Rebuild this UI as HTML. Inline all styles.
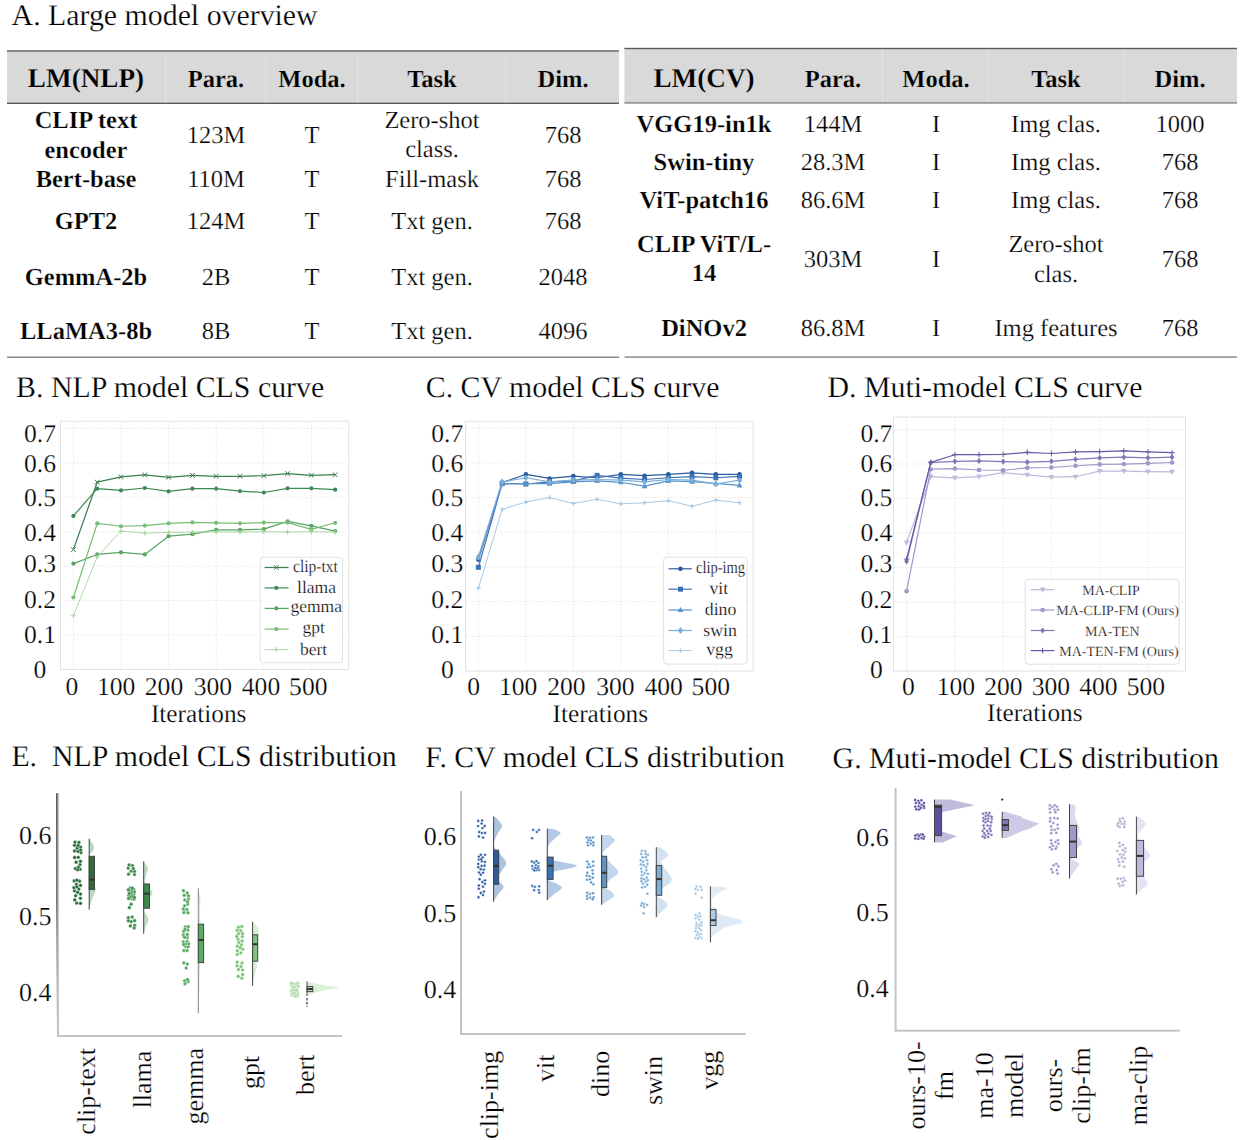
<!DOCTYPE html>
<html><head><meta charset="utf-8"><title>Figure</title>
<style>
html,body{margin:0;padding:0;background:#fff;}
body{width:1242px;height:1140px;overflow:hidden;}
svg{display:block;font-family:"Liberation Serif", serif;text-rendering:geometricPrecision;}
text{stroke:#fff;stroke-width:0.25px;}
</style></head>
<body>
<svg width="1242" height="1140" viewBox="0 0 1242 1140">
<rect width="1242" height="1140" fill="#fff"/>
<text x="11.6" y="24.5" font-size="29.85" text-anchor="start" font-weight="normal" fill="#000" >A. Large model overview</text>
<text x="16.1" y="396.8" font-size="29.85" text-anchor="start" font-weight="normal" fill="#000" >B. NLP model CLS curve</text>
<text x="425.8" y="396.5" font-size="29.85" text-anchor="start" font-weight="normal" fill="#000" >C. CV model CLS curve</text>
<text x="827.5" y="396.7" font-size="29.85" text-anchor="start" font-weight="normal" fill="#000" >D. Muti-model CLS curve</text>
<text x="11.4" y="766" font-size="29.85" text-anchor="start" font-weight="normal" fill="#000" style="white-space:pre">E.  NLP model CLS distribution</text>
<text x="425.2" y="766.5" font-size="29.85" text-anchor="start" font-weight="normal" fill="#000" >F. CV model CLS distribution</text>
<text x="832.6" y="767.8" font-size="29.85" text-anchor="start" font-weight="normal" fill="#000" >G. Muti-model CLS distribution</text>
<rect x="7" y="51" width="612" height="51.8" fill="#d9d9d9" stroke="none" stroke-width="1" />
<rect x="7" y="50" width="612" height="2" fill="#8a8a8a" stroke="none" stroke-width="1" />
<rect x="7" y="102.6" width="612" height="1.4" fill="#5a5a5a" stroke="none" stroke-width="1" />
<rect x="165" y="52" width="1" height="50.6" fill="#e2e2e2" stroke="none" stroke-width="1" />
<rect x="265" y="52" width="1" height="50.6" fill="#e2e2e2" stroke="none" stroke-width="1" />
<rect x="357" y="52" width="1" height="50.6" fill="#e2e2e2" stroke="none" stroke-width="1" />
<rect x="505" y="52" width="1" height="50.6" fill="#e2e2e2" stroke="none" stroke-width="1" />
<rect x="7" y="356.5" width="612.3" height="1.5" fill="#8a8a8a" stroke="none" stroke-width="1" />
<rect x="624.4" y="48.5" width="612.6" height="54" fill="#d9d9d9" stroke="none" stroke-width="1" />
<rect x="624.4" y="47.8" width="612.6" height="1.4" fill="#5a5a5a" stroke="none" stroke-width="1" />
<rect x="624.4" y="101.9" width="612.6" height="1.9" fill="#9a9a9a" stroke="none" stroke-width="1" />
<rect x="882" y="49.2" width="1" height="52.7" fill="#e2e2e2" stroke="none" stroke-width="1" />
<rect x="988" y="49.2" width="1" height="52.7" fill="#e2e2e2" stroke="none" stroke-width="1" />
<rect x="1123" y="49.2" width="1" height="52.7" fill="#e2e2e2" stroke="none" stroke-width="1" />
<rect x="624.6" y="356.3" width="612.4" height="1.5" fill="#8a8a8a" stroke="none" stroke-width="1" />
<text x="86" y="86.8" font-size="27.2" text-anchor="middle" font-weight="bold" fill="#000" style="stroke:#d9d9d9">LM(NLP)</text>
<text x="216" y="86.8" font-size="24.5" text-anchor="middle" font-weight="bold" fill="#000" style="stroke:#d9d9d9">Para.</text>
<text x="312" y="86.8" font-size="24.5" text-anchor="middle" font-weight="bold" fill="#000" style="stroke:#d9d9d9">Moda.</text>
<text x="432" y="86.8" font-size="24.5" text-anchor="middle" font-weight="bold" fill="#000" style="stroke:#d9d9d9">Task</text>
<text x="563" y="86.8" font-size="24.5" text-anchor="middle" font-weight="bold" fill="#000" style="stroke:#d9d9d9">Dim.</text>
<text x="704" y="86.8" font-size="27.2" text-anchor="middle" font-weight="bold" fill="#000" style="stroke:#d9d9d9">LM(CV)</text>
<text x="833" y="86.8" font-size="24.5" text-anchor="middle" font-weight="bold" fill="#000" style="stroke:#d9d9d9">Para.</text>
<text x="936" y="86.8" font-size="24.5" text-anchor="middle" font-weight="bold" fill="#000" style="stroke:#d9d9d9">Moda.</text>
<text x="1056" y="86.8" font-size="24.5" text-anchor="middle" font-weight="bold" fill="#000" style="stroke:#d9d9d9">Task</text>
<text x="1180" y="86.8" font-size="24.5" text-anchor="middle" font-weight="bold" fill="#000" style="stroke:#d9d9d9">Dim.</text>
<text x="86" y="127.5" font-size="24.5" text-anchor="middle" font-weight="bold" fill="#000" >CLIP text</text>
<text x="86" y="157.5" font-size="24.5" text-anchor="middle" font-weight="bold" fill="#000" >encoder</text>
<text x="216" y="143" font-size="24.5" text-anchor="middle" font-weight="normal" fill="#000" >123M</text>
<text x="312" y="143" font-size="24.5" text-anchor="middle" font-weight="normal" fill="#000" >T</text>
<text x="432" y="127.5" font-size="24.5" text-anchor="middle" font-weight="normal" fill="#000" >Zero-shot</text>
<text x="432" y="157.4" font-size="24.5" text-anchor="middle" font-weight="normal" fill="#000" >class.</text>
<text x="563" y="143" font-size="24.5" text-anchor="middle" font-weight="normal" fill="#000" >768</text>
<text x="86" y="187.3" font-size="24.5" text-anchor="middle" font-weight="bold" fill="#000" >Bert-base</text>
<text x="216" y="187.3" font-size="24.5" text-anchor="middle" font-weight="normal" fill="#000" >110M</text>
<text x="312" y="187.3" font-size="24.5" text-anchor="middle" font-weight="normal" fill="#000" >T</text>
<text x="432" y="187.3" font-size="24.5" text-anchor="middle" font-weight="normal" fill="#000" >Fill-mask</text>
<text x="563" y="187.3" font-size="24.5" text-anchor="middle" font-weight="normal" fill="#000" >768</text>
<text x="86" y="229.3" font-size="24.5" text-anchor="middle" font-weight="bold" fill="#000" >GPT2</text>
<text x="216" y="229.3" font-size="24.5" text-anchor="middle" font-weight="normal" fill="#000" >124M</text>
<text x="312" y="229.3" font-size="24.5" text-anchor="middle" font-weight="normal" fill="#000" >T</text>
<text x="432" y="229.3" font-size="24.5" text-anchor="middle" font-weight="normal" fill="#000" >Txt gen.</text>
<text x="563" y="229.3" font-size="24.5" text-anchor="middle" font-weight="normal" fill="#000" >768</text>
<text x="86" y="284.5" font-size="24.5" text-anchor="middle" font-weight="bold" fill="#000" >GemmA-2b</text>
<text x="216" y="284.5" font-size="24.5" text-anchor="middle" font-weight="normal" fill="#000" >2B</text>
<text x="312" y="284.5" font-size="24.5" text-anchor="middle" font-weight="normal" fill="#000" >T</text>
<text x="432" y="284.5" font-size="24.5" text-anchor="middle" font-weight="normal" fill="#000" >Txt gen.</text>
<text x="563" y="284.5" font-size="24.5" text-anchor="middle" font-weight="normal" fill="#000" >2048</text>
<text x="86" y="339.3" font-size="24.5" text-anchor="middle" font-weight="bold" fill="#000" >LLaMA3-8b</text>
<text x="216" y="339.3" font-size="24.5" text-anchor="middle" font-weight="normal" fill="#000" >8B</text>
<text x="312" y="339.3" font-size="24.5" text-anchor="middle" font-weight="normal" fill="#000" >T</text>
<text x="432" y="339.3" font-size="24.5" text-anchor="middle" font-weight="normal" fill="#000" >Txt gen.</text>
<text x="563" y="339.3" font-size="24.5" text-anchor="middle" font-weight="normal" fill="#000" >4096</text>
<text x="704" y="131.5" font-size="24.5" text-anchor="middle" font-weight="bold" fill="#000" >VGG19-in1k</text>
<text x="833" y="131.5" font-size="24.5" text-anchor="middle" font-weight="normal" fill="#000" >144M</text>
<text x="936" y="131.5" font-size="24.5" text-anchor="middle" font-weight="normal" fill="#000" >I</text>
<text x="1056" y="131.5" font-size="24.5" text-anchor="middle" font-weight="normal" fill="#000" >Img clas.</text>
<text x="1180" y="131.5" font-size="24.5" text-anchor="middle" font-weight="normal" fill="#000" >1000</text>
<text x="704" y="170" font-size="24.5" text-anchor="middle" font-weight="bold" fill="#000" >Swin-tiny</text>
<text x="833" y="170" font-size="24.5" text-anchor="middle" font-weight="normal" fill="#000" >28.3M</text>
<text x="936" y="170" font-size="24.5" text-anchor="middle" font-weight="normal" fill="#000" >I</text>
<text x="1056" y="170" font-size="24.5" text-anchor="middle" font-weight="normal" fill="#000" >Img clas.</text>
<text x="1180" y="170" font-size="24.5" text-anchor="middle" font-weight="normal" fill="#000" >768</text>
<text x="704" y="208.4" font-size="24.5" text-anchor="middle" font-weight="bold" fill="#000" >ViT-patch16</text>
<text x="833" y="208.4" font-size="24.5" text-anchor="middle" font-weight="normal" fill="#000" >86.6M</text>
<text x="936" y="208.4" font-size="24.5" text-anchor="middle" font-weight="normal" fill="#000" >I</text>
<text x="1056" y="208.4" font-size="24.5" text-anchor="middle" font-weight="normal" fill="#000" >Img clas.</text>
<text x="1180" y="208.4" font-size="24.5" text-anchor="middle" font-weight="normal" fill="#000" >768</text>
<text x="704" y="335.7" font-size="24.5" text-anchor="middle" font-weight="bold" fill="#000" >DiNOv2</text>
<text x="833" y="335.7" font-size="24.5" text-anchor="middle" font-weight="normal" fill="#000" >86.8M</text>
<text x="936" y="335.7" font-size="24.5" text-anchor="middle" font-weight="normal" fill="#000" >I</text>
<text x="1056" y="335.7" font-size="24.5" text-anchor="middle" font-weight="normal" fill="#000" >Img features</text>
<text x="1180" y="335.7" font-size="24.5" text-anchor="middle" font-weight="normal" fill="#000" >768</text>
<text x="704" y="252" font-size="24.5" text-anchor="middle" font-weight="bold" fill="#000" >CLIP ViT/L-</text>
<text x="704" y="281.4" font-size="24.5" text-anchor="middle" font-weight="bold" fill="#000" >14</text>
<text x="833" y="266.8" font-size="24.5" text-anchor="middle" font-weight="normal" fill="#000" >303M</text>
<text x="936" y="266.8" font-size="24.5" text-anchor="middle" font-weight="normal" fill="#000" >I</text>
<text x="1056" y="252.2" font-size="24.5" text-anchor="middle" font-weight="normal" fill="#000" >Zero-shot</text>
<text x="1056" y="282" font-size="24.5" text-anchor="middle" font-weight="normal" fill="#000" >clas.</text>
<text x="1180" y="266.8" font-size="24.5" text-anchor="middle" font-weight="normal" fill="#000" >768</text>
<line x1="60.5" y1="635.06" x2="348.7" y2="635.06" stroke="#e0e0e0" stroke-width="0.7" stroke-dasharray="1.6 1.6"/>
<line x1="60.5" y1="600.62" x2="348.7" y2="600.62" stroke="#e0e0e0" stroke-width="0.7" stroke-dasharray="1.6 1.6"/>
<line x1="60.5" y1="566.18" x2="348.7" y2="566.18" stroke="#e0e0e0" stroke-width="0.7" stroke-dasharray="1.6 1.6"/>
<line x1="60.5" y1="531.74" x2="348.7" y2="531.74" stroke="#e0e0e0" stroke-width="0.7" stroke-dasharray="1.6 1.6"/>
<line x1="60.5" y1="497.3" x2="348.7" y2="497.3" stroke="#e0e0e0" stroke-width="0.7" stroke-dasharray="1.6 1.6"/>
<line x1="60.5" y1="462.86" x2="348.7" y2="462.86" stroke="#e0e0e0" stroke-width="0.7" stroke-dasharray="1.6 1.6"/>
<line x1="60.5" y1="428.42" x2="348.7" y2="428.42" stroke="#e0e0e0" stroke-width="0.7" stroke-dasharray="1.6 1.6"/>
<line x1="73.4" y1="421.2" x2="73.4" y2="669.5" stroke="#e0e0e0" stroke-width="0.7" stroke-dasharray="1.6 1.6"/>
<line x1="121" y1="421.2" x2="121" y2="669.5" stroke="#e0e0e0" stroke-width="0.7" stroke-dasharray="1.6 1.6"/>
<line x1="168.6" y1="421.2" x2="168.6" y2="669.5" stroke="#e0e0e0" stroke-width="0.7" stroke-dasharray="1.6 1.6"/>
<line x1="216.2" y1="421.2" x2="216.2" y2="669.5" stroke="#e0e0e0" stroke-width="0.7" stroke-dasharray="1.6 1.6"/>
<line x1="263.8" y1="421.2" x2="263.8" y2="669.5" stroke="#e0e0e0" stroke-width="0.7" stroke-dasharray="1.6 1.6"/>
<line x1="311.4" y1="421.2" x2="311.4" y2="669.5" stroke="#e0e0e0" stroke-width="0.7" stroke-dasharray="1.6 1.6"/>
<rect x="60.5" y="421.2" width="288.2" height="248.3" fill="none" stroke="#e2e2e2" stroke-width="1" />
<text x="40" y="677.9" font-size="25.6" text-anchor="middle" font-weight="normal" fill="#000" >0</text>
<text x="40" y="643.2" font-size="25.6" text-anchor="middle" font-weight="normal" fill="#000" >0.1</text>
<text x="40" y="608.3" font-size="25.6" text-anchor="middle" font-weight="normal" fill="#000" >0.2</text>
<text x="40" y="571.5" font-size="25.6" text-anchor="middle" font-weight="normal" fill="#000" >0.3</text>
<text x="40" y="541.3" font-size="25.6" text-anchor="middle" font-weight="normal" fill="#000" >0.4</text>
<text x="40" y="506.3" font-size="25.6" text-anchor="middle" font-weight="normal" fill="#000" >0.5</text>
<text x="40" y="472.1" font-size="25.6" text-anchor="middle" font-weight="normal" fill="#000" >0.6</text>
<text x="40" y="442.3" font-size="25.6" text-anchor="middle" font-weight="normal" fill="#000" >0.7</text>
<text x="72" y="695.3" font-size="25.6" text-anchor="middle" font-weight="normal" fill="#000" >0</text>
<text x="116.2" y="695.3" font-size="25.6" text-anchor="middle" font-weight="normal" fill="#000" >100</text>
<text x="164" y="695.3" font-size="25.6" text-anchor="middle" font-weight="normal" fill="#000" >200</text>
<text x="212.9" y="695.3" font-size="25.6" text-anchor="middle" font-weight="normal" fill="#000" >300</text>
<text x="261" y="695.3" font-size="25.6" text-anchor="middle" font-weight="normal" fill="#000" >400</text>
<text x="308.3" y="695.3" font-size="25.6" text-anchor="middle" font-weight="normal" fill="#000" >500</text>
<text x="150.9" y="721.6" font-size="25.3" text-anchor="start" font-weight="normal" fill="#000" >Iterations</text>
<polyline points="73.4,549.65 97.2,482.15 121,476.81 144.8,474.91 168.6,477.32 192.4,475.4 216.2,476.29 240,476.29 263.8,475.67 287.6,473.54 311.4,475.26 335.2,474.71" fill="none" stroke="#3b7f4d" stroke-width="1.25" stroke-linejoin="round"/>
<path d="M71 547.25L75.8 552.05M75.8 547.25L71 552.05" stroke="#3b7f4d" stroke-width="1" fill="none"/>
<path d="M94.8 479.75L99.6 484.55M99.6 479.75L94.8 484.55" stroke="#3b7f4d" stroke-width="1" fill="none"/>
<path d="M118.6 474.41L123.4 479.21M123.4 474.41L118.6 479.21" stroke="#3b7f4d" stroke-width="1" fill="none"/>
<path d="M142.4 472.51L147.2 477.31M147.2 472.51L142.4 477.31" stroke="#3b7f4d" stroke-width="1" fill="none"/>
<path d="M166.2 474.92L171 479.72M171 474.92L166.2 479.72" stroke="#3b7f4d" stroke-width="1" fill="none"/>
<path d="M190 473L194.8 477.8M194.8 473L190 477.8" stroke="#3b7f4d" stroke-width="1" fill="none"/>
<path d="M213.8 473.89L218.6 478.69M218.6 473.89L213.8 478.69" stroke="#3b7f4d" stroke-width="1" fill="none"/>
<path d="M237.6 473.89L242.4 478.69M242.4 473.89L237.6 478.69" stroke="#3b7f4d" stroke-width="1" fill="none"/>
<path d="M261.4 473.27L266.2 478.07M266.2 473.27L261.4 478.07" stroke="#3b7f4d" stroke-width="1" fill="none"/>
<path d="M285.2 471.14L290 475.94M290 471.14L285.2 475.94" stroke="#3b7f4d" stroke-width="1" fill="none"/>
<path d="M309 472.86L313.8 477.66M313.8 472.86L309 477.66" stroke="#3b7f4d" stroke-width="1" fill="none"/>
<path d="M332.8 472.31L337.6 477.11M337.6 472.31L332.8 477.11" stroke="#3b7f4d" stroke-width="1" fill="none"/>
<polyline points="73.4,515.9 97.2,488.69 121,490.41 144.8,488 168.6,491.45 192.4,488.69 216.2,488.69 240,491.1 263.8,492.48 287.6,488.35 311.4,488.35 335.2,489.72" fill="none" stroke="#3e8a50" stroke-width="1.2" stroke-linejoin="round"/>
<circle cx="73.4" cy="515.9" r="2.1" fill="#3e8a50"/>
<circle cx="97.2" cy="488.69" r="2.1" fill="#3e8a50"/>
<circle cx="121" cy="490.41" r="2.1" fill="#3e8a50"/>
<circle cx="144.8" cy="488" r="2.1" fill="#3e8a50"/>
<circle cx="168.6" cy="491.45" r="2.1" fill="#3e8a50"/>
<circle cx="192.4" cy="488.69" r="2.1" fill="#3e8a50"/>
<circle cx="216.2" cy="488.69" r="2.1" fill="#3e8a50"/>
<circle cx="240" cy="491.1" r="2.1" fill="#3e8a50"/>
<circle cx="263.8" cy="492.48" r="2.1" fill="#3e8a50"/>
<circle cx="287.6" cy="488.35" r="2.1" fill="#3e8a50"/>
<circle cx="311.4" cy="488.35" r="2.1" fill="#3e8a50"/>
<circle cx="335.2" cy="489.72" r="2.1" fill="#3e8a50"/>
<polyline points="73.4,563.6 97.2,554.47 121,552.4 144.8,554.47 168.6,536.22 192.4,534.15 216.2,529.78 240,529.78 263.8,529.09 287.6,521.41 311.4,525.89 335.2,531.05" fill="none" stroke="#58a562" stroke-width="1.2" stroke-linejoin="round"/>
<circle cx="73.4" cy="563.6" r="2.1" fill="#58a562"/>
<circle cx="97.2" cy="554.47" r="2.1" fill="#58a562"/>
<circle cx="121" cy="552.4" r="2.1" fill="#58a562"/>
<circle cx="144.8" cy="554.47" r="2.1" fill="#58a562"/>
<circle cx="168.6" cy="536.22" r="2.1" fill="#58a562"/>
<circle cx="192.4" cy="534.15" r="2.1" fill="#58a562"/>
<circle cx="216.2" cy="529.78" r="2.1" fill="#58a562"/>
<circle cx="240" cy="529.78" r="2.1" fill="#58a562"/>
<circle cx="263.8" cy="529.09" r="2.1" fill="#58a562"/>
<circle cx="287.6" cy="521.41" r="2.1" fill="#58a562"/>
<circle cx="311.4" cy="525.89" r="2.1" fill="#58a562"/>
<circle cx="335.2" cy="531.05" r="2.1" fill="#58a562"/>
<polyline points="73.4,597.52 97.2,523.47 121,526.23 144.8,525.54 168.6,523.47 192.4,522.44 216.2,522.79 240,523.37 263.8,522.58 287.6,522.58 311.4,529.4 335.2,522.79" fill="none" stroke="#78bd76" stroke-width="1.2" stroke-linejoin="round"/>
<circle cx="73.4" cy="597.52" r="2.1" fill="#78bd76"/>
<circle cx="97.2" cy="523.47" r="2.1" fill="#78bd76"/>
<circle cx="121" cy="526.23" r="2.1" fill="#78bd76"/>
<circle cx="144.8" cy="525.54" r="2.1" fill="#78bd76"/>
<circle cx="168.6" cy="523.47" r="2.1" fill="#78bd76"/>
<circle cx="192.4" cy="522.44" r="2.1" fill="#78bd76"/>
<circle cx="216.2" cy="522.79" r="2.1" fill="#78bd76"/>
<circle cx="240" cy="523.37" r="2.1" fill="#78bd76"/>
<circle cx="263.8" cy="522.58" r="2.1" fill="#78bd76"/>
<circle cx="287.6" cy="522.58" r="2.1" fill="#78bd76"/>
<circle cx="311.4" cy="529.4" r="2.1" fill="#78bd76"/>
<circle cx="335.2" cy="522.79" r="2.1" fill="#78bd76"/>
<polyline points="73.4,615.77 97.2,556.88 121,531.05 144.8,533.12 168.6,532.43 192.4,532.08 216.2,531.88 240,532.08 263.8,531.74 287.6,532.08 311.4,531.74 335.2,532.08" fill="none" stroke="#a3d59a" stroke-width="0.9" stroke-linejoin="round"/>
<path d="M70.9 615.77L75.9 615.77M73.4 613.27L73.4 618.27" stroke="#a3d59a" stroke-width="1" fill="none"/>
<path d="M94.7 556.88L99.7 556.88M97.2 554.38L97.2 559.38" stroke="#a3d59a" stroke-width="1" fill="none"/>
<path d="M118.5 531.05L123.5 531.05M121 528.55L121 533.55" stroke="#a3d59a" stroke-width="1" fill="none"/>
<path d="M142.3 533.12L147.3 533.12M144.8 530.62L144.8 535.62" stroke="#a3d59a" stroke-width="1" fill="none"/>
<path d="M166.1 532.43L171.1 532.43M168.6 529.93L168.6 534.93" stroke="#a3d59a" stroke-width="1" fill="none"/>
<path d="M189.9 532.08L194.9 532.08M192.4 529.58L192.4 534.58" stroke="#a3d59a" stroke-width="1" fill="none"/>
<path d="M213.7 531.88L218.7 531.88M216.2 529.38L216.2 534.38" stroke="#a3d59a" stroke-width="1" fill="none"/>
<path d="M237.5 532.08L242.5 532.08M240 529.58L240 534.58" stroke="#a3d59a" stroke-width="1" fill="none"/>
<path d="M261.3 531.74L266.3 531.74M263.8 529.24L263.8 534.24" stroke="#a3d59a" stroke-width="1" fill="none"/>
<path d="M285.1 532.08L290.1 532.08M287.6 529.58L287.6 534.58" stroke="#a3d59a" stroke-width="1" fill="none"/>
<path d="M308.9 531.74L313.9 531.74M311.4 529.24L311.4 534.24" stroke="#a3d59a" stroke-width="1" fill="none"/>
<path d="M332.7 532.08L337.7 532.08M335.2 529.58L335.2 534.58" stroke="#a3d59a" stroke-width="1" fill="none"/>
<rect x="260.2" y="557.2" width="82.3" height="105.6" rx="3" fill="#fff" fill-opacity="0.85" stroke="#e0e0e0" stroke-width="1"/>
<line x1="264.6" y1="567.5" x2="288.6" y2="567.5" stroke="#3b7f4d" stroke-width="1.25" />
<path d="M273.9 565.1L278.7 569.9M278.7 565.1L273.9 569.9" stroke="#3b7f4d" stroke-width="1" fill="none"/>
<text x="315.4" y="572" font-size="17.5" text-anchor="middle" font-weight="normal" fill="#000" textLength="44.7" lengthAdjust="spacingAndGlyphs">clip-txt</text>
<line x1="264.6" y1="587.9" x2="288.6" y2="587.9" stroke="#3e8a50" stroke-width="1.2" />
<circle cx="276.3" cy="587.9" r="2.1" fill="#3e8a50"/>
<text x="316.5" y="592.9" font-size="17.5" text-anchor="middle" font-weight="normal" fill="#000" >llama</text>
<line x1="264.6" y1="608.4" x2="288.6" y2="608.4" stroke="#58a562" stroke-width="1.2" />
<circle cx="276.3" cy="608.4" r="2.1" fill="#58a562"/>
<text x="316.2" y="612.4" font-size="17.5" text-anchor="middle" font-weight="normal" fill="#000" >gemma</text>
<line x1="264.6" y1="629.1" x2="288.6" y2="629.1" stroke="#78bd76" stroke-width="1.2" />
<circle cx="276.3" cy="629.1" r="2.1" fill="#78bd76"/>
<text x="313.6" y="633.1" font-size="17.5" text-anchor="middle" font-weight="normal" fill="#000" >gpt</text>
<line x1="264.6" y1="649.6" x2="288.6" y2="649.6" stroke="#a3d59a" stroke-width="0.9" />
<path d="M273.8 649.6L278.8 649.6M276.3 647.1L276.3 652.1" stroke="#a3d59a" stroke-width="1" fill="none"/>
<text x="313.6" y="655.1" font-size="17.5" text-anchor="middle" font-weight="normal" fill="#000" >bert</text>
<line x1="465.6" y1="636.39" x2="753.2" y2="636.39" stroke="#e0e0e0" stroke-width="0.7" stroke-dasharray="1.6 1.6"/>
<line x1="465.6" y1="601.68" x2="753.2" y2="601.68" stroke="#e0e0e0" stroke-width="0.7" stroke-dasharray="1.6 1.6"/>
<line x1="465.6" y1="566.97" x2="753.2" y2="566.97" stroke="#e0e0e0" stroke-width="0.7" stroke-dasharray="1.6 1.6"/>
<line x1="465.6" y1="532.26" x2="753.2" y2="532.26" stroke="#e0e0e0" stroke-width="0.7" stroke-dasharray="1.6 1.6"/>
<line x1="465.6" y1="497.55" x2="753.2" y2="497.55" stroke="#e0e0e0" stroke-width="0.7" stroke-dasharray="1.6 1.6"/>
<line x1="465.6" y1="462.84" x2="753.2" y2="462.84" stroke="#e0e0e0" stroke-width="0.7" stroke-dasharray="1.6 1.6"/>
<line x1="465.6" y1="428.13" x2="753.2" y2="428.13" stroke="#e0e0e0" stroke-width="0.7" stroke-dasharray="1.6 1.6"/>
<line x1="478.4" y1="421.3" x2="478.4" y2="671.1" stroke="#e0e0e0" stroke-width="0.7" stroke-dasharray="1.6 1.6"/>
<line x1="525.88" y1="421.3" x2="525.88" y2="671.1" stroke="#e0e0e0" stroke-width="0.7" stroke-dasharray="1.6 1.6"/>
<line x1="573.36" y1="421.3" x2="573.36" y2="671.1" stroke="#e0e0e0" stroke-width="0.7" stroke-dasharray="1.6 1.6"/>
<line x1="620.84" y1="421.3" x2="620.84" y2="671.1" stroke="#e0e0e0" stroke-width="0.7" stroke-dasharray="1.6 1.6"/>
<line x1="668.32" y1="421.3" x2="668.32" y2="671.1" stroke="#e0e0e0" stroke-width="0.7" stroke-dasharray="1.6 1.6"/>
<line x1="715.8" y1="421.3" x2="715.8" y2="671.1" stroke="#e0e0e0" stroke-width="0.7" stroke-dasharray="1.6 1.6"/>
<rect x="465.6" y="421.3" width="287.6" height="249.8" fill="none" stroke="#e2e2e2" stroke-width="1" />
<text x="447.3" y="677.9" font-size="25.6" text-anchor="middle" font-weight="normal" fill="#000" >0</text>
<text x="447.3" y="643.2" font-size="25.6" text-anchor="middle" font-weight="normal" fill="#000" >0.1</text>
<text x="447.3" y="608.3" font-size="25.6" text-anchor="middle" font-weight="normal" fill="#000" >0.2</text>
<text x="447.3" y="571.5" font-size="25.6" text-anchor="middle" font-weight="normal" fill="#000" >0.3</text>
<text x="447.3" y="541.3" font-size="25.6" text-anchor="middle" font-weight="normal" fill="#000" >0.4</text>
<text x="447.3" y="506.3" font-size="25.6" text-anchor="middle" font-weight="normal" fill="#000" >0.5</text>
<text x="447.3" y="472.1" font-size="25.6" text-anchor="middle" font-weight="normal" fill="#000" >0.6</text>
<text x="447.3" y="442.3" font-size="25.6" text-anchor="middle" font-weight="normal" fill="#000" >0.7</text>
<text x="473.6" y="695.3" font-size="25.6" text-anchor="middle" font-weight="normal" fill="#000" >0</text>
<text x="518.1" y="695.3" font-size="25.6" text-anchor="middle" font-weight="normal" fill="#000" >100</text>
<text x="566.4" y="695.3" font-size="25.6" text-anchor="middle" font-weight="normal" fill="#000" >200</text>
<text x="615.4" y="695.3" font-size="25.6" text-anchor="middle" font-weight="normal" fill="#000" >300</text>
<text x="663.6" y="695.3" font-size="25.6" text-anchor="middle" font-weight="normal" fill="#000" >400</text>
<text x="710.8" y="695.3" font-size="25.6" text-anchor="middle" font-weight="normal" fill="#000" >500</text>
<text x="552.5" y="721.8" font-size="25.3" text-anchor="start" font-weight="normal" fill="#000" >Iterations</text>
<polyline points="478.4,559.68 502.14,482.62 525.88,474.29 549.62,478.46 573.36,476.03 597.1,477.77 620.84,474.29 644.58,475.68 668.32,474.29 692.06,472.91 715.8,474.29 739.54,474.29" fill="none" stroke="#2b5b9f" stroke-width="1.2" stroke-linejoin="round"/>
<circle cx="478.4" cy="559.68" r="2.3" fill="#2b5b9f"/>
<circle cx="502.14" cy="482.62" r="2.3" fill="#2b5b9f"/>
<circle cx="525.88" cy="474.29" r="2.3" fill="#2b5b9f"/>
<circle cx="549.62" cy="478.46" r="2.3" fill="#2b5b9f"/>
<circle cx="573.36" cy="476.03" r="2.3" fill="#2b5b9f"/>
<circle cx="597.1" cy="477.77" r="2.3" fill="#2b5b9f"/>
<circle cx="620.84" cy="474.29" r="2.3" fill="#2b5b9f"/>
<circle cx="644.58" cy="475.68" r="2.3" fill="#2b5b9f"/>
<circle cx="668.32" cy="474.29" r="2.3" fill="#2b5b9f"/>
<circle cx="692.06" cy="472.91" r="2.3" fill="#2b5b9f"/>
<circle cx="715.8" cy="474.29" r="2.3" fill="#2b5b9f"/>
<circle cx="739.54" cy="474.29" r="2.3" fill="#2b5b9f"/>
<polyline points="478.4,567.32 502.14,483.67 525.88,484.01 549.62,481.93 573.36,480.89 597.1,475.34 620.84,478.11 644.58,479.5 668.32,477.77 692.06,476.72 715.8,477.77 739.54,476.38" fill="none" stroke="#3a71b4" stroke-width="1.2" stroke-linejoin="round"/>
<rect x="475.9" y="564.82" width="5" height="5" fill="#3a71b4"/>
<rect x="499.64" y="481.17" width="5" height="5" fill="#3a71b4"/>
<rect x="523.38" y="481.51" width="5" height="5" fill="#3a71b4"/>
<rect x="547.12" y="479.43" width="5" height="5" fill="#3a71b4"/>
<rect x="570.86" y="478.39" width="5" height="5" fill="#3a71b4"/>
<rect x="594.6" y="472.84" width="5" height="5" fill="#3a71b4"/>
<rect x="618.34" y="475.61" width="5" height="5" fill="#3a71b4"/>
<rect x="642.08" y="477" width="5" height="5" fill="#3a71b4"/>
<rect x="665.82" y="475.27" width="5" height="5" fill="#3a71b4"/>
<rect x="689.56" y="474.22" width="5" height="5" fill="#3a71b4"/>
<rect x="713.3" y="475.27" width="5" height="5" fill="#3a71b4"/>
<rect x="737.04" y="473.88" width="5" height="5" fill="#3a71b4"/>
<polyline points="478.4,558.29 502.14,483.67 525.88,483.67 549.62,483.67 573.36,481.93 597.1,480.89 620.84,482.28 644.58,486.1 668.32,480.89 692.06,481.58 715.8,483.32 739.54,485.4" fill="none" stroke="#5793ca" stroke-width="1.2" stroke-linejoin="round"/>
<path d="M478.4 555.17L481.26 560.37L475.54 560.37Z" fill="#5793ca"/>
<path d="M502.14 480.55L505 485.75L499.28 485.75Z" fill="#5793ca"/>
<path d="M525.88 480.55L528.74 485.75L523.02 485.75Z" fill="#5793ca"/>
<path d="M549.62 480.55L552.48 485.75L546.76 485.75Z" fill="#5793ca"/>
<path d="M573.36 478.81L576.22 484.01L570.5 484.01Z" fill="#5793ca"/>
<path d="M597.1 477.77L599.96 482.97L594.24 482.97Z" fill="#5793ca"/>
<path d="M620.84 479.16L623.7 484.36L617.98 484.36Z" fill="#5793ca"/>
<path d="M644.58 482.98L647.44 488.18L641.72 488.18Z" fill="#5793ca"/>
<path d="M668.32 477.77L671.18 482.97L665.46 482.97Z" fill="#5793ca"/>
<path d="M692.06 478.46L694.92 483.66L689.2 483.66Z" fill="#5793ca"/>
<path d="M715.8 480.2L718.66 485.4L712.94 485.4Z" fill="#5793ca"/>
<path d="M739.54 482.28L742.4 487.48L736.68 487.48Z" fill="#5793ca"/>
<polyline points="478.4,556.9 502.14,481.93 525.88,477.77 549.62,481.93 573.36,480.19 597.1,479.5 620.84,480.19 644.58,481.93 668.32,479.5 692.06,480.19 715.8,484.01 739.54,480.19" fill="none" stroke="#79acd6" stroke-width="1.2" stroke-linejoin="round"/>
<path d="M478.4 553.52L481 556.9L478.4 560.28L475.8 556.9Z" fill="#79acd6"/>
<path d="M502.14 478.55L504.74 481.93L502.14 485.31L499.54 481.93Z" fill="#79acd6"/>
<path d="M525.88 474.39L528.48 477.77L525.88 481.15L523.28 477.77Z" fill="#79acd6"/>
<path d="M549.62 478.55L552.22 481.93L549.62 485.31L547.02 481.93Z" fill="#79acd6"/>
<path d="M573.36 476.81L575.96 480.19L573.36 483.57L570.76 480.19Z" fill="#79acd6"/>
<path d="M597.1 476.12L599.7 479.5L597.1 482.88L594.5 479.5Z" fill="#79acd6"/>
<path d="M620.84 476.81L623.44 480.19L620.84 483.57L618.24 480.19Z" fill="#79acd6"/>
<path d="M644.58 478.55L647.18 481.93L644.58 485.31L641.98 481.93Z" fill="#79acd6"/>
<path d="M668.32 476.12L670.92 479.5L668.32 482.88L665.72 479.5Z" fill="#79acd6"/>
<path d="M692.06 476.81L694.66 480.19L692.06 483.57L689.46 480.19Z" fill="#79acd6"/>
<path d="M715.8 480.63L718.4 484.01L715.8 487.39L713.2 484.01Z" fill="#79acd6"/>
<path d="M739.54 476.81L742.14 480.19L739.54 483.57L736.94 480.19Z" fill="#79acd6"/>
<polyline points="478.4,588.14 502.14,509.35 525.88,502.06 549.62,497.55 573.36,503.45 597.1,499.29 620.84,503.8 644.58,502.76 668.32,500.67 692.06,506.23 715.8,500.15 739.54,502.76" fill="none" stroke="#a6c9e4" stroke-width="1.0" stroke-linejoin="round"/>
<path d="M476.2 588.14L480.6 588.14M478.4 585.94L478.4 590.34" stroke="#a6c9e4" stroke-width="1.2" fill="none"/>
<path d="M499.94 509.35L504.34 509.35M502.14 507.15L502.14 511.55" stroke="#a6c9e4" stroke-width="1.2" fill="none"/>
<path d="M523.68 502.06L528.08 502.06M525.88 499.86L525.88 504.26" stroke="#a6c9e4" stroke-width="1.2" fill="none"/>
<path d="M547.42 497.55L551.82 497.55M549.62 495.35L549.62 499.75" stroke="#a6c9e4" stroke-width="1.2" fill="none"/>
<path d="M571.16 503.45L575.56 503.45M573.36 501.25L573.36 505.65" stroke="#a6c9e4" stroke-width="1.2" fill="none"/>
<path d="M594.9 499.29L599.3 499.29M597.1 497.09L597.1 501.49" stroke="#a6c9e4" stroke-width="1.2" fill="none"/>
<path d="M618.64 503.8L623.04 503.8M620.84 501.6L620.84 506" stroke="#a6c9e4" stroke-width="1.2" fill="none"/>
<path d="M642.38 502.76L646.78 502.76M644.58 500.56L644.58 504.96" stroke="#a6c9e4" stroke-width="1.2" fill="none"/>
<path d="M666.12 500.67L670.52 500.67M668.32 498.47L668.32 502.87" stroke="#a6c9e4" stroke-width="1.2" fill="none"/>
<path d="M689.86 506.23L694.26 506.23M692.06 504.03L692.06 508.43" stroke="#a6c9e4" stroke-width="1.2" fill="none"/>
<path d="M713.6 500.15L718 500.15M715.8 497.95L715.8 502.35" stroke="#a6c9e4" stroke-width="1.2" fill="none"/>
<path d="M737.34 502.76L741.74 502.76M739.54 500.56L739.54 504.96" stroke="#a6c9e4" stroke-width="1.2" fill="none"/>
<rect x="663.6" y="557.2" width="83.5" height="106.9" rx="3" fill="#fff" fill-opacity="0.85" stroke="#e0e0e0" stroke-width="1"/>
<line x1="668.5" y1="568.8" x2="691.8" y2="568.8" stroke="#2b5b9f" stroke-width="1.2" />
<circle cx="680.5" cy="568.8" r="2.3" fill="#2b5b9f"/>
<text x="720.6" y="573.3" font-size="17.5" text-anchor="middle" font-weight="normal" fill="#000" textLength="49" lengthAdjust="spacingAndGlyphs">clip-img</text>
<line x1="668.5" y1="589.2" x2="691.8" y2="589.2" stroke="#3a71b4" stroke-width="1.2" />
<rect x="678" y="586.7" width="5" height="5" fill="#3a71b4"/>
<text x="718.8" y="594.2" font-size="17.8" text-anchor="middle" font-weight="normal" fill="#000" >vit</text>
<line x1="668.5" y1="610" x2="691.8" y2="610" stroke="#5793ca" stroke-width="1.2" />
<path d="M680.5 606.88L683.36 612.08L677.64 612.08Z" fill="#5793ca"/>
<text x="720.6" y="615" font-size="17.8" text-anchor="middle" font-weight="normal" fill="#000" >dino</text>
<line x1="668.5" y1="630.5" x2="691.8" y2="630.5" stroke="#79acd6" stroke-width="1.2" />
<path d="M680.5 627.12L683.1 630.5L680.5 633.88L677.9 630.5Z" fill="#79acd6"/>
<text x="720.1" y="635.5" font-size="17.8" text-anchor="middle" font-weight="normal" fill="#000" >swin</text>
<line x1="668.5" y1="650.6" x2="691.8" y2="650.6" stroke="#a6c9e4" stroke-width="1.0" />
<path d="M678.3 650.6L682.7 650.6M680.5 648.4L680.5 652.8" stroke="#a6c9e4" stroke-width="1.2" fill="none"/>
<text x="719.5" y="654.6" font-size="17.8" text-anchor="middle" font-weight="normal" fill="#000" >vgg</text>
<line x1="893.5" y1="636.59" x2="1185.5" y2="636.59" stroke="#e0e0e0" stroke-width="0.7" stroke-dasharray="1.6 1.6"/>
<line x1="893.5" y1="602.08" x2="1185.5" y2="602.08" stroke="#e0e0e0" stroke-width="0.7" stroke-dasharray="1.6 1.6"/>
<line x1="893.5" y1="567.57" x2="1185.5" y2="567.57" stroke="#e0e0e0" stroke-width="0.7" stroke-dasharray="1.6 1.6"/>
<line x1="893.5" y1="533.06" x2="1185.5" y2="533.06" stroke="#e0e0e0" stroke-width="0.7" stroke-dasharray="1.6 1.6"/>
<line x1="893.5" y1="498.55" x2="1185.5" y2="498.55" stroke="#e0e0e0" stroke-width="0.7" stroke-dasharray="1.6 1.6"/>
<line x1="893.5" y1="464.04" x2="1185.5" y2="464.04" stroke="#e0e0e0" stroke-width="0.7" stroke-dasharray="1.6 1.6"/>
<line x1="893.5" y1="429.53" x2="1185.5" y2="429.53" stroke="#e0e0e0" stroke-width="0.7" stroke-dasharray="1.6 1.6"/>
<line x1="906.6" y1="417.1" x2="906.6" y2="671.1" stroke="#e0e0e0" stroke-width="0.7" stroke-dasharray="1.6 1.6"/>
<line x1="954.87" y1="417.1" x2="954.87" y2="671.1" stroke="#e0e0e0" stroke-width="0.7" stroke-dasharray="1.6 1.6"/>
<line x1="1003.14" y1="417.1" x2="1003.14" y2="671.1" stroke="#e0e0e0" stroke-width="0.7" stroke-dasharray="1.6 1.6"/>
<line x1="1051.41" y1="417.1" x2="1051.41" y2="671.1" stroke="#e0e0e0" stroke-width="0.7" stroke-dasharray="1.6 1.6"/>
<line x1="1099.68" y1="417.1" x2="1099.68" y2="671.1" stroke="#e0e0e0" stroke-width="0.7" stroke-dasharray="1.6 1.6"/>
<line x1="1147.95" y1="417.1" x2="1147.95" y2="671.1" stroke="#e0e0e0" stroke-width="0.7" stroke-dasharray="1.6 1.6"/>
<rect x="893.5" y="417.1" width="292" height="254" fill="none" stroke="#e2e2e2" stroke-width="1" />
<text x="876.4" y="677.9" font-size="25.6" text-anchor="middle" font-weight="normal" fill="#000" >0</text>
<text x="876.4" y="643.2" font-size="25.6" text-anchor="middle" font-weight="normal" fill="#000" >0.1</text>
<text x="876.4" y="608.3" font-size="25.6" text-anchor="middle" font-weight="normal" fill="#000" >0.2</text>
<text x="876.4" y="571.5" font-size="25.6" text-anchor="middle" font-weight="normal" fill="#000" >0.3</text>
<text x="876.4" y="541.3" font-size="25.6" text-anchor="middle" font-weight="normal" fill="#000" >0.4</text>
<text x="876.4" y="506.3" font-size="25.6" text-anchor="middle" font-weight="normal" fill="#000" >0.5</text>
<text x="876.4" y="472.1" font-size="25.6" text-anchor="middle" font-weight="normal" fill="#000" >0.6</text>
<text x="876.4" y="442.3" font-size="25.6" text-anchor="middle" font-weight="normal" fill="#000" >0.7</text>
<text x="908.4" y="694.5" font-size="25.6" text-anchor="middle" font-weight="normal" fill="#000" >0</text>
<text x="955.9" y="694.5" font-size="25.6" text-anchor="middle" font-weight="normal" fill="#000" >100</text>
<text x="1003.4" y="694.5" font-size="25.6" text-anchor="middle" font-weight="normal" fill="#000" >200</text>
<text x="1050.9" y="694.5" font-size="25.6" text-anchor="middle" font-weight="normal" fill="#000" >300</text>
<text x="1098.4" y="694.5" font-size="25.6" text-anchor="middle" font-weight="normal" fill="#000" >400</text>
<text x="1145.9" y="694.5" font-size="25.6" text-anchor="middle" font-weight="normal" fill="#000" >500</text>
<text x="987" y="721" font-size="25.3" text-anchor="start" font-weight="normal" fill="#000" >Iterations</text>
<polyline points="906.6,542.52 930.74,476.6 954.87,477.84 979,476.6 1003.14,472.67 1027.28,474.88 1051.41,477.15 1075.55,476.71 1099.68,471.11 1123.82,471.11 1147.95,471.63 1172.09,471.8" fill="none" stroke="#bcbbdc" stroke-width="1.2" stroke-linejoin="round"/>
<path d="M906.6 545.64L909.46 540.44L903.74 540.44Z" fill="#bcbbdc"/>
<path d="M930.74 479.72L933.6 474.52L927.88 474.52Z" fill="#bcbbdc"/>
<path d="M954.87 480.96L957.73 475.76L952.01 475.76Z" fill="#bcbbdc"/>
<path d="M979 479.72L981.87 474.52L976.14 474.52Z" fill="#bcbbdc"/>
<path d="M1003.14 475.79L1006 470.59L1000.28 470.59Z" fill="#bcbbdc"/>
<path d="M1027.28 478L1030.13 472.8L1024.42 472.8Z" fill="#bcbbdc"/>
<path d="M1051.41 480.27L1054.27 475.07L1048.55 475.07Z" fill="#bcbbdc"/>
<path d="M1075.55 479.83L1078.4 474.63L1072.69 474.63Z" fill="#bcbbdc"/>
<path d="M1099.68 474.23L1102.54 469.03L1096.82 469.03Z" fill="#bcbbdc"/>
<path d="M1123.82 474.23L1126.67 469.03L1120.96 469.03Z" fill="#bcbbdc"/>
<path d="M1147.95 474.75L1150.81 469.55L1145.09 469.55Z" fill="#bcbbdc"/>
<path d="M1172.09 474.92L1174.94 469.72L1169.23 469.72Z" fill="#bcbbdc"/>
<polyline points="906.6,591.14 930.74,469.22 954.87,468.6 979,470.01 1003.14,470.25 1027.28,467.84 1051.41,467.49 1075.55,465.77 1099.68,464.39 1123.82,464.04 1147.95,463.35 1172.09,462.49" fill="none" stroke="#9d99c9" stroke-width="1.2" stroke-linejoin="round"/>
<circle cx="906.6" cy="591.14" r="2.3" fill="#9d99c9"/>
<circle cx="930.74" cy="469.22" r="2.3" fill="#9d99c9"/>
<circle cx="954.87" cy="468.6" r="2.3" fill="#9d99c9"/>
<circle cx="979" cy="470.01" r="2.3" fill="#9d99c9"/>
<circle cx="1003.14" cy="470.25" r="2.3" fill="#9d99c9"/>
<circle cx="1027.28" cy="467.84" r="2.3" fill="#9d99c9"/>
<circle cx="1051.41" cy="467.49" r="2.3" fill="#9d99c9"/>
<circle cx="1075.55" cy="465.77" r="2.3" fill="#9d99c9"/>
<circle cx="1099.68" cy="464.39" r="2.3" fill="#9d99c9"/>
<circle cx="1123.82" cy="464.04" r="2.3" fill="#9d99c9"/>
<circle cx="1147.95" cy="463.35" r="2.3" fill="#9d99c9"/>
<circle cx="1172.09" cy="462.49" r="2.3" fill="#9d99c9"/>
<polyline points="906.6,561.36 930.74,462.66 954.87,461.28 979,460.93 1003.14,461.62 1027.28,462.14 1051.41,461.28 1075.55,459.35 1099.68,457.83 1123.82,457.14 1147.95,457.83 1172.09,457.14" fill="none" stroke="#7f79b8" stroke-width="1.2" stroke-linejoin="round"/>
<path d="M906.6 558.24L909 561.36L906.6 564.48L904.2 561.36Z" fill="#7f79b8"/>
<path d="M930.74 459.54L933.13 462.66L930.74 465.78L928.34 462.66Z" fill="#7f79b8"/>
<path d="M954.87 458.16L957.27 461.28L954.87 464.4L952.47 461.28Z" fill="#7f79b8"/>
<path d="M979 457.81L981.4 460.93L979 464.05L976.61 460.93Z" fill="#7f79b8"/>
<path d="M1003.14 458.5L1005.54 461.62L1003.14 464.74L1000.74 461.62Z" fill="#7f79b8"/>
<path d="M1027.28 459.02L1029.68 462.14L1027.28 465.26L1024.88 462.14Z" fill="#7f79b8"/>
<path d="M1051.41 458.16L1053.81 461.28L1051.41 464.4L1049.01 461.28Z" fill="#7f79b8"/>
<path d="M1075.55 456.23L1077.95 459.35L1075.55 462.47L1073.14 459.35Z" fill="#7f79b8"/>
<path d="M1099.68 454.71L1102.08 457.83L1099.68 460.95L1097.28 457.83Z" fill="#7f79b8"/>
<path d="M1123.82 454.02L1126.22 457.14L1123.82 460.26L1121.41 457.14Z" fill="#7f79b8"/>
<path d="M1147.95 454.71L1150.35 457.83L1147.95 460.95L1145.55 457.83Z" fill="#7f79b8"/>
<path d="M1172.09 454.02L1174.49 457.14L1172.09 460.26L1169.68 457.14Z" fill="#7f79b8"/>
<polyline points="906.6,559.05 930.74,462.31 954.87,454.72 979,454.72 1003.14,454.38 1027.28,452.31 1051.41,453.48 1075.55,451.96 1099.68,451.62 1123.82,450.93 1147.95,451.96 1172.09,452.65" fill="none" stroke="#6a58a6" stroke-width="1.2" stroke-linejoin="round"/>
<path d="M903.8 559.05L909.4 559.05M906.6 556.25L906.6 561.85" stroke="#6a58a6" stroke-width="1" fill="none"/>
<path d="M927.94 462.31L933.53 462.31M930.74 459.51L930.74 465.11" stroke="#6a58a6" stroke-width="1" fill="none"/>
<path d="M952.07 454.72L957.67 454.72M954.87 451.92L954.87 457.52" stroke="#6a58a6" stroke-width="1" fill="none"/>
<path d="M976.21 454.72L981.8 454.72M979 451.92L979 457.52" stroke="#6a58a6" stroke-width="1" fill="none"/>
<path d="M1000.34 454.38L1005.94 454.38M1003.14 451.58L1003.14 457.18" stroke="#6a58a6" stroke-width="1" fill="none"/>
<path d="M1024.48 452.31L1030.08 452.31M1027.28 449.51L1027.28 455.11" stroke="#6a58a6" stroke-width="1" fill="none"/>
<path d="M1048.61 453.48L1054.21 453.48M1051.41 450.68L1051.41 456.28" stroke="#6a58a6" stroke-width="1" fill="none"/>
<path d="M1072.75 451.96L1078.35 451.96M1075.55 449.16L1075.55 454.76" stroke="#6a58a6" stroke-width="1" fill="none"/>
<path d="M1096.88 451.62L1102.48 451.62M1099.68 448.82L1099.68 454.42" stroke="#6a58a6" stroke-width="1" fill="none"/>
<path d="M1121.02 450.93L1126.62 450.93M1123.82 448.13L1123.82 453.73" stroke="#6a58a6" stroke-width="1" fill="none"/>
<path d="M1145.15 451.96L1150.75 451.96M1147.95 449.16L1147.95 454.76" stroke="#6a58a6" stroke-width="1" fill="none"/>
<path d="M1169.29 452.65L1174.88 452.65M1172.09 449.85L1172.09 455.45" stroke="#6a58a6" stroke-width="1" fill="none"/>
<rect x="1025.2" y="579.4" width="153.9" height="84.8" rx="3" fill="#fff" fill-opacity="0.85" stroke="#e0e0e0" stroke-width="1"/>
<line x1="1030.7" y1="589.7" x2="1054.5" y2="589.7" stroke="#bcbbdc" stroke-width="1.2" />
<path d="M1042.6 592.82L1045.46 587.62L1039.74 587.62Z" fill="#bcbbdc"/>
<text x="1111" y="594.7" font-size="14" text-anchor="middle" font-weight="normal" fill="#000" >MA-CLIP</text>
<line x1="1030.7" y1="610" x2="1054.5" y2="610" stroke="#9d99c9" stroke-width="1.2" />
<circle cx="1042.6" cy="610" r="2.3" fill="#9d99c9"/>
<text x="1117.6" y="615" font-size="14" text-anchor="middle" font-weight="normal" fill="#000" >MA-CLIP-FM (Ours)</text>
<line x1="1030.7" y1="630.5" x2="1054.5" y2="630.5" stroke="#7f79b8" stroke-width="1.2" />
<path d="M1042.6 627.38L1045 630.5L1042.6 633.62L1040.2 630.5Z" fill="#7f79b8"/>
<text x="1112.3" y="635.5" font-size="14" text-anchor="middle" font-weight="normal" fill="#000" >MA-TEN</text>
<line x1="1030.7" y1="650.6" x2="1054.5" y2="650.6" stroke="#6a58a6" stroke-width="1.2" />
<path d="M1039.8 650.6L1045.4 650.6M1042.6 647.8L1042.6 653.4" stroke="#6a58a6" stroke-width="1" fill="none"/>
<text x="1119" y="655.6" font-size="14" text-anchor="middle" font-weight="normal" fill="#000" >MA-TEN-FM (Ours)</text>
<rect x="57" y="793.2" width="2" height="242.8" fill="#c4c4c4" stroke="none" stroke-width="1" />
<rect x="57" y="1035" width="285" height="2" fill="#c4c4c4" stroke="none" stroke-width="1" />
<defs><linearGradient id="dk" x1="0" y1="0" x2="0" y2="1"><stop offset="0" stop-color="#333"/><stop offset="0.45" stop-color="#555"/><stop offset="0.75" stop-color="#999" stop-opacity="0.6"/><stop offset="1" stop-color="#bbb" stop-opacity="0"/></linearGradient></defs>
<rect x="56.2" y="793.2" width="1.2" height="242.8" fill="url(#dk)" stroke="none" stroke-width="1" />
<text x="51.5" y="844.1" font-size="26" text-anchor="end" font-weight="normal" fill="#000" >0.6</text>
<text x="51.5" y="925.2" font-size="26" text-anchor="end" font-weight="normal" fill="#000" >0.5</text>
<text x="51.5" y="1000.5" font-size="26" text-anchor="end" font-weight="normal" fill="#000" >0.4</text>
<path d="M89.2 838.7C89.7 839.42 91.38 841.4 92.2 843C93.02 844.6 94.27 846.63 94.1 848.3C93.93 849.97 91.93 851.72 91.2 853C90.47 854.28 89.87 851.5 89.7 856C89.53 860.5 89.28 874.83 90.2 880C91.12 885.17 94.37 885.03 95.2 887C96.03 888.97 95.78 889.63 95.2 891.8C94.62 893.97 92.7 897.03 91.7 900C90.7 902.97 89.62 908 89.2 909.6L89.2 909.6L89.2 838.7Z" fill="#b8d8bf" fill-opacity="1.0"/>
<line x1="89.2" y1="838.7" x2="89.2" y2="909.6" stroke="#444" stroke-width="1" />
<rect x="89.2" y="856.3" width="5.3" height="33.1" fill="#2e6c3a" stroke="#444" stroke-width="1" />
<line x1="89.2" y1="879.7" x2="94.5" y2="879.7" stroke="#333" stroke-width="2" />
<circle cx="77.15" cy="848.17" r="1.85" fill="#2a6a36" stroke="#fff" stroke-width="0.45"/>
<circle cx="80.6" cy="847.12" r="1.85" fill="#2a6a36" stroke="#fff" stroke-width="0.45"/>
<circle cx="74.54" cy="845.31" r="1.85" fill="#2a6a36" stroke="#fff" stroke-width="0.45"/>
<circle cx="74.51" cy="850.95" r="1.85" fill="#2a6a36" stroke="#fff" stroke-width="0.45"/>
<circle cx="78.91" cy="842.39" r="1.85" fill="#2a6a36" stroke="#fff" stroke-width="0.45"/>
<circle cx="81.02" cy="852.68" r="1.85" fill="#2a6a36" stroke="#fff" stroke-width="0.45"/>
<circle cx="75" cy="842.09" r="1.85" fill="#2a6a36" stroke="#fff" stroke-width="0.45"/>
<circle cx="77.93" cy="851.43" r="1.85" fill="#2a6a36" stroke="#fff" stroke-width="0.45"/>
<circle cx="78.11" cy="845.45" r="1.85" fill="#2a6a36" stroke="#fff" stroke-width="0.45"/>
<circle cx="80.66" cy="849.98" r="1.85" fill="#2a6a36" stroke="#fff" stroke-width="0.45"/>
<circle cx="80.01" cy="864.57" r="1.85" fill="#2a6a36" stroke="#fff" stroke-width="0.45"/>
<circle cx="76.13" cy="862.13" r="1.85" fill="#2a6a36" stroke="#fff" stroke-width="0.45"/>
<circle cx="80.02" cy="869.22" r="1.85" fill="#2a6a36" stroke="#fff" stroke-width="0.45"/>
<circle cx="75.37" cy="868.54" r="1.85" fill="#2a6a36" stroke="#fff" stroke-width="0.45"/>
<circle cx="78.27" cy="857.3" r="1.85" fill="#2a6a36" stroke="#fff" stroke-width="0.45"/>
<circle cx="80.44" cy="861.24" r="1.85" fill="#2a6a36" stroke="#fff" stroke-width="0.45"/>
<circle cx="74.63" cy="857.44" r="1.85" fill="#2a6a36" stroke="#fff" stroke-width="0.45"/>
<circle cx="78.34" cy="867.01" r="1.85" fill="#2a6a36" stroke="#fff" stroke-width="0.45"/>
<circle cx="77.67" cy="869.72" r="1.85" fill="#2a6a36" stroke="#fff" stroke-width="0.45"/>
<circle cx="76.47" cy="884.31" r="1.85" fill="#2a6a36" stroke="#fff" stroke-width="0.45"/>
<circle cx="78.85" cy="889.05" r="1.85" fill="#2a6a36" stroke="#fff" stroke-width="0.45"/>
<circle cx="75.67" cy="895.75" r="1.85" fill="#2a6a36" stroke="#fff" stroke-width="0.45"/>
<circle cx="80.53" cy="894.12" r="1.85" fill="#2a6a36" stroke="#fff" stroke-width="0.45"/>
<circle cx="74.14" cy="880.91" r="1.85" fill="#2a6a36" stroke="#fff" stroke-width="0.45"/>
<circle cx="74.48" cy="890.85" r="1.85" fill="#2a6a36" stroke="#fff" stroke-width="0.45"/>
<circle cx="79.51" cy="881.15" r="1.85" fill="#2a6a36" stroke="#fff" stroke-width="0.45"/>
<circle cx="77.66" cy="892.28" r="1.85" fill="#2a6a36" stroke="#fff" stroke-width="0.45"/>
<circle cx="80.52" cy="885.45" r="1.85" fill="#2a6a36" stroke="#fff" stroke-width="0.45"/>
<circle cx="73.93" cy="887.56" r="1.85" fill="#2a6a36" stroke="#fff" stroke-width="0.45"/>
<circle cx="76.86" cy="880.17" r="1.85" fill="#2a6a36" stroke="#fff" stroke-width="0.45"/>
<circle cx="76.84" cy="886.93" r="1.85" fill="#2a6a36" stroke="#fff" stroke-width="0.45"/>
<circle cx="74.76" cy="899.9" r="1.85" fill="#2a6a36" stroke="#fff" stroke-width="0.45"/>
<circle cx="80.5" cy="903.35" r="1.85" fill="#2a6a36" stroke="#fff" stroke-width="0.45"/>
<circle cx="80.4" cy="898.23" r="1.85" fill="#2a6a36" stroke="#fff" stroke-width="0.45"/>
<circle cx="76.66" cy="903.1" r="1.85" fill="#2a6a36" stroke="#fff" stroke-width="0.45"/>
<path d="M143.7 861.4C144.12 862 145.48 863.63 146.2 865C146.92 866.37 148.08 867.77 148 869.6C147.92 871.43 146.25 873.93 145.7 876C145.15 878.07 144.2 880 144.7 882C145.2 884 147.37 886.13 148.7 888C150.03 889.87 152.87 891.37 152.7 893.2C152.53 895.03 149.12 896.2 147.7 899C146.28 901.8 144.37 907.33 144.2 910C144.03 912.67 145.98 913.28 146.7 915C147.42 916.72 148.67 918.3 148.5 920.3C148.33 922.3 146.5 924.75 145.7 927C144.9 929.25 144.03 932.67 143.7 933.8L143.7 933.8L143.7 861.4Z" fill="#bfdcc5" fill-opacity="1.0"/>
<line x1="143.7" y1="861.4" x2="143.7" y2="933.8" stroke="#444" stroke-width="1" />
<rect x="143.7" y="884" width="5.8" height="24.2" fill="#3d8b4b" stroke="#444" stroke-width="1" />
<line x1="143.7" y1="893.7" x2="149.5" y2="893.7" stroke="#333" stroke-width="2" />
<circle cx="131.23" cy="871.26" r="1.85" fill="#3a8a48" stroke="#fff" stroke-width="0.45"/>
<circle cx="132.48" cy="865.51" r="1.85" fill="#3a8a48" stroke="#fff" stroke-width="0.45"/>
<circle cx="128.22" cy="868.1" r="1.85" fill="#3a8a48" stroke="#fff" stroke-width="0.45"/>
<circle cx="128.55" cy="874.13" r="1.85" fill="#3a8a48" stroke="#fff" stroke-width="0.45"/>
<circle cx="134.57" cy="874.48" r="1.85" fill="#3a8a48" stroke="#fff" stroke-width="0.45"/>
<circle cx="134.5" cy="871.32" r="1.85" fill="#3a8a48" stroke="#fff" stroke-width="0.45"/>
<circle cx="129.07" cy="864.93" r="1.85" fill="#3a8a48" stroke="#fff" stroke-width="0.45"/>
<circle cx="133.25" cy="868.52" r="1.85" fill="#3a8a48" stroke="#fff" stroke-width="0.45"/>
<circle cx="129.35" cy="891.4" r="1.85" fill="#3a8a48" stroke="#fff" stroke-width="0.45"/>
<circle cx="133.75" cy="894.69" r="1.85" fill="#3a8a48" stroke="#fff" stroke-width="0.45"/>
<circle cx="128.82" cy="895.56" r="1.85" fill="#3a8a48" stroke="#fff" stroke-width="0.45"/>
<circle cx="133.6" cy="889.37" r="1.85" fill="#3a8a48" stroke="#fff" stroke-width="0.45"/>
<circle cx="132.15" cy="898.69" r="1.85" fill="#3a8a48" stroke="#fff" stroke-width="0.45"/>
<circle cx="134.22" cy="891.96" r="1.85" fill="#3a8a48" stroke="#fff" stroke-width="0.45"/>
<circle cx="130.14" cy="888.2" r="1.85" fill="#3a8a48" stroke="#fff" stroke-width="0.45"/>
<circle cx="131.54" cy="894.19" r="1.85" fill="#3a8a48" stroke="#fff" stroke-width="0.45"/>
<circle cx="128.73" cy="898.39" r="1.85" fill="#3a8a48" stroke="#fff" stroke-width="0.45"/>
<circle cx="134.09" cy="899.06" r="1.85" fill="#3a8a48" stroke="#fff" stroke-width="0.45"/>
<circle cx="129.31" cy="893.47" r="1.85" fill="#3a8a48" stroke="#fff" stroke-width="0.45"/>
<circle cx="131.06" cy="896.83" r="1.85" fill="#3a8a48" stroke="#fff" stroke-width="0.45"/>
<circle cx="133" cy="896.49" r="1.85" fill="#3a8a48" stroke="#fff" stroke-width="0.45"/>
<circle cx="131.89" cy="891.54" r="1.85" fill="#3a8a48" stroke="#fff" stroke-width="0.45"/>
<circle cx="131.79" cy="889.71" r="1.85" fill="#3a8a48" stroke="#fff" stroke-width="0.45"/>
<circle cx="132.18" cy="888.04" r="1.85" fill="#3a8a48" stroke="#fff" stroke-width="0.45"/>
<circle cx="128.31" cy="889.82" r="1.85" fill="#3a8a48" stroke="#fff" stroke-width="0.45"/>
<circle cx="134.42" cy="897.54" r="1.85" fill="#3a8a48" stroke="#fff" stroke-width="0.45"/>
<circle cx="131.15" cy="904.17" r="1.85" fill="#3a8a48" stroke="#fff" stroke-width="0.45"/>
<circle cx="129.36" cy="907.56" r="1.85" fill="#3a8a48" stroke="#fff" stroke-width="0.45"/>
<circle cx="134.64" cy="920.64" r="1.85" fill="#3a8a48" stroke="#fff" stroke-width="0.45"/>
<circle cx="128.3" cy="917.7" r="1.85" fill="#3a8a48" stroke="#fff" stroke-width="0.45"/>
<circle cx="134.6" cy="925.45" r="1.85" fill="#3a8a48" stroke="#fff" stroke-width="0.45"/>
<circle cx="130.43" cy="925.97" r="1.85" fill="#3a8a48" stroke="#fff" stroke-width="0.45"/>
<circle cx="131.15" cy="921.61" r="1.85" fill="#3a8a48" stroke="#fff" stroke-width="0.45"/>
<circle cx="132.18" cy="917.01" r="1.85" fill="#3a8a48" stroke="#fff" stroke-width="0.45"/>
<circle cx="134.15" cy="927.98" r="1.85" fill="#3a8a48" stroke="#fff" stroke-width="0.45"/>
<circle cx="128.31" cy="920.87" r="1.85" fill="#3a8a48" stroke="#fff" stroke-width="0.45"/>
<path d="M198.3 888.4C198.67 890.33 200.25 896.07 200.5 900C200.75 903.93 199.75 907 199.8 912C199.85 917 200.63 923.67 200.8 930C200.97 936.33 200.97 943.33 200.8 950C200.63 956.67 200.05 962.5 199.8 970C199.55 977.5 199.55 987.83 199.3 995C199.05 1002.17 198.47 1010 198.3 1013L198.3 1013L198.3 888.4Z" fill="#d4ead6" fill-opacity="1.0"/>
<line x1="198.3" y1="888.4" x2="198.3" y2="1013.3" stroke="#888" stroke-width="1" />
<rect x="198.3" y="924.2" width="5.3" height="38.4" fill="#5aab63" stroke="#444" stroke-width="1" />
<line x1="198.3" y1="939.9" x2="203.6" y2="939.9" stroke="#333" stroke-width="2" />
<circle cx="184.57" cy="905.79" r="1.85" fill="#55a85f" stroke="#fff" stroke-width="0.45"/>
<circle cx="186.91" cy="909.59" r="1.85" fill="#55a85f" stroke="#fff" stroke-width="0.45"/>
<circle cx="184.17" cy="895.26" r="1.85" fill="#55a85f" stroke="#fff" stroke-width="0.45"/>
<circle cx="187.19" cy="892.94" r="1.85" fill="#55a85f" stroke="#fff" stroke-width="0.45"/>
<circle cx="184.77" cy="899.92" r="1.85" fill="#55a85f" stroke="#fff" stroke-width="0.45"/>
<circle cx="187.76" cy="904.01" r="1.85" fill="#55a85f" stroke="#fff" stroke-width="0.45"/>
<circle cx="188.4" cy="898.95" r="1.85" fill="#55a85f" stroke="#fff" stroke-width="0.45"/>
<circle cx="183.9" cy="912.41" r="1.85" fill="#55a85f" stroke="#fff" stroke-width="0.45"/>
<circle cx="187.97" cy="912.84" r="1.85" fill="#55a85f" stroke="#fff" stroke-width="0.45"/>
<circle cx="183.44" cy="890.63" r="1.85" fill="#55a85f" stroke="#fff" stroke-width="0.45"/>
<circle cx="183.34" cy="908.94" r="1.85" fill="#55a85f" stroke="#fff" stroke-width="0.45"/>
<circle cx="187.63" cy="901.48" r="1.85" fill="#55a85f" stroke="#fff" stroke-width="0.45"/>
<circle cx="188.46" cy="895.81" r="1.85" fill="#55a85f" stroke="#fff" stroke-width="0.45"/>
<circle cx="183.38" cy="934.89" r="1.85" fill="#55a85f" stroke="#fff" stroke-width="0.45"/>
<circle cx="187.22" cy="937.7" r="1.85" fill="#55a85f" stroke="#fff" stroke-width="0.45"/>
<circle cx="187.82" cy="930.02" r="1.85" fill="#55a85f" stroke="#fff" stroke-width="0.45"/>
<circle cx="185.37" cy="946.52" r="1.85" fill="#55a85f" stroke="#fff" stroke-width="0.45"/>
<circle cx="185.48" cy="926.93" r="1.85" fill="#55a85f" stroke="#fff" stroke-width="0.45"/>
<circle cx="187.13" cy="941.62" r="1.85" fill="#55a85f" stroke="#fff" stroke-width="0.45"/>
<circle cx="183.88" cy="950.53" r="1.85" fill="#55a85f" stroke="#fff" stroke-width="0.45"/>
<circle cx="183.3" cy="941.95" r="1.85" fill="#55a85f" stroke="#fff" stroke-width="0.45"/>
<circle cx="187.09" cy="950.5" r="1.85" fill="#55a85f" stroke="#fff" stroke-width="0.45"/>
<circle cx="183.73" cy="931.22" r="1.85" fill="#55a85f" stroke="#fff" stroke-width="0.45"/>
<circle cx="188.25" cy="946.77" r="1.85" fill="#55a85f" stroke="#fff" stroke-width="0.45"/>
<circle cx="187.29" cy="934.44" r="1.85" fill="#55a85f" stroke="#fff" stroke-width="0.45"/>
<circle cx="188.27" cy="926.58" r="1.85" fill="#55a85f" stroke="#fff" stroke-width="0.45"/>
<circle cx="184.48" cy="937.28" r="1.85" fill="#55a85f" stroke="#fff" stroke-width="0.45"/>
<circle cx="188.6" cy="943.85" r="1.85" fill="#55a85f" stroke="#fff" stroke-width="0.45"/>
<circle cx="185.8" cy="944.03" r="1.85" fill="#55a85f" stroke="#fff" stroke-width="0.45"/>
<circle cx="185.04" cy="929.22" r="1.85" fill="#55a85f" stroke="#fff" stroke-width="0.45"/>
<circle cx="183.7" cy="944.5" r="1.85" fill="#55a85f" stroke="#fff" stroke-width="0.45"/>
<circle cx="186.19" cy="967.99" r="1.85" fill="#55a85f" stroke="#fff" stroke-width="0.45"/>
<circle cx="183.81" cy="962.81" r="1.85" fill="#55a85f" stroke="#fff" stroke-width="0.45"/>
<circle cx="187.27" cy="963.99" r="1.85" fill="#55a85f" stroke="#fff" stroke-width="0.45"/>
<circle cx="184.63" cy="980.79" r="1.85" fill="#55a85f" stroke="#fff" stroke-width="0.45"/>
<circle cx="188.16" cy="981.55" r="1.85" fill="#55a85f" stroke="#fff" stroke-width="0.45"/>
<circle cx="184.99" cy="983.81" r="1.85" fill="#55a85f" stroke="#fff" stroke-width="0.45"/>
<circle cx="187.48" cy="979.49" r="1.85" fill="#55a85f" stroke="#fff" stroke-width="0.45"/>
<path d="M252.6 921.7C253.27 922.42 255.6 924.5 256.6 926C257.6 927.5 258.6 928.7 258.6 930.7C258.6 932.7 257.43 935.12 256.6 938C255.77 940.88 254.1 945.17 253.6 948C253.1 950.83 253.18 952.67 253.6 955C254.02 957.33 255.53 960 256.1 962C256.67 964 257.25 964.83 257 967C256.75 969.17 255.33 971.87 254.6 975C253.87 978.13 252.93 984 252.6 985.8L252.6 985.8L252.6 921.7Z" fill="#d8eed5" fill-opacity="1.0"/>
<line x1="252.6" y1="921.7" x2="252.6" y2="985.8" stroke="#444" stroke-width="1" />
<rect x="252.6" y="934.8" width="5.1" height="26.4" fill="#7ec57c" stroke="#444" stroke-width="1" />
<line x1="252.6" y1="944.2" x2="257.7" y2="944.2" stroke="#333" stroke-width="2" />
<circle cx="237.41" cy="946.2" r="1.85" fill="#7cc47a" stroke="#fff" stroke-width="0.45"/>
<circle cx="240.79" cy="952.9" r="1.85" fill="#7cc47a" stroke="#fff" stroke-width="0.45"/>
<circle cx="238.43" cy="933.63" r="1.85" fill="#7cc47a" stroke="#fff" stroke-width="0.45"/>
<circle cx="241.3" cy="944.96" r="1.85" fill="#7cc47a" stroke="#fff" stroke-width="0.45"/>
<circle cx="242.34" cy="936.5" r="1.85" fill="#7cc47a" stroke="#fff" stroke-width="0.45"/>
<circle cx="240.67" cy="930.64" r="1.85" fill="#7cc47a" stroke="#fff" stroke-width="0.45"/>
<circle cx="242.17" cy="940.89" r="1.85" fill="#7cc47a" stroke="#fff" stroke-width="0.45"/>
<circle cx="237.95" cy="939.17" r="1.85" fill="#7cc47a" stroke="#fff" stroke-width="0.45"/>
<circle cx="238.49" cy="927.21" r="1.85" fill="#7cc47a" stroke="#fff" stroke-width="0.45"/>
<circle cx="238.9" cy="942.45" r="1.85" fill="#7cc47a" stroke="#fff" stroke-width="0.45"/>
<circle cx="237.35" cy="950.82" r="1.85" fill="#7cc47a" stroke="#fff" stroke-width="0.45"/>
<circle cx="242.68" cy="949.13" r="1.85" fill="#7cc47a" stroke="#fff" stroke-width="0.45"/>
<circle cx="237.16" cy="930.13" r="1.85" fill="#7cc47a" stroke="#fff" stroke-width="0.45"/>
<circle cx="240.09" cy="947.59" r="1.85" fill="#7cc47a" stroke="#fff" stroke-width="0.45"/>
<circle cx="241.81" cy="926.51" r="1.85" fill="#7cc47a" stroke="#fff" stroke-width="0.45"/>
<circle cx="237.28" cy="954.5" r="1.85" fill="#7cc47a" stroke="#fff" stroke-width="0.45"/>
<circle cx="236.75" cy="936.46" r="1.85" fill="#7cc47a" stroke="#fff" stroke-width="0.45"/>
<circle cx="242.53" cy="933.51" r="1.85" fill="#7cc47a" stroke="#fff" stroke-width="0.45"/>
<circle cx="240.88" cy="966.63" r="1.85" fill="#7cc47a" stroke="#fff" stroke-width="0.45"/>
<circle cx="238.46" cy="969.53" r="1.85" fill="#7cc47a" stroke="#fff" stroke-width="0.45"/>
<circle cx="237" cy="965.81" r="1.85" fill="#7cc47a" stroke="#fff" stroke-width="0.45"/>
<circle cx="242.02" cy="962.92" r="1.85" fill="#7cc47a" stroke="#fff" stroke-width="0.45"/>
<circle cx="237.17" cy="962.1" r="1.85" fill="#7cc47a" stroke="#fff" stroke-width="0.45"/>
<circle cx="242.61" cy="969.99" r="1.85" fill="#7cc47a" stroke="#fff" stroke-width="0.45"/>
<circle cx="238.2" cy="976.32" r="1.85" fill="#7cc47a" stroke="#fff" stroke-width="0.45"/>
<circle cx="242.61" cy="974.5" r="1.85" fill="#7cc47a" stroke="#fff" stroke-width="0.45"/>
<circle cx="241.83" cy="978.27" r="1.85" fill="#7cc47a" stroke="#fff" stroke-width="0.45"/>
<path d="M307 981.4C308.67 981.83 311.7 982.9 317 984C322.3 985.1 337.47 987 338.8 988C340.13 989 329.13 989.17 325 990C320.87 990.83 317 992 314 993C311 994 308.17 995.5 307 996L307 996L307 981.4Z" fill="#dcf0d6" fill-opacity="1.0"/>
<line x1="307" y1="981.4" x2="307" y2="996" stroke="#444" stroke-width="1" />
<rect x="307" y="986.5" width="5.8" height="5.1" fill="#b6e0ae" stroke="#444" stroke-width="1" />
<line x1="307" y1="989" x2="312.8" y2="989" stroke="#333" stroke-width="2" />
<circle cx="297.9" cy="983.08" r="1.85" fill="#aedba5" stroke="#fff" stroke-width="0.45"/>
<circle cx="297.28" cy="991.88" r="1.85" fill="#aedba5" stroke="#fff" stroke-width="0.45"/>
<circle cx="297.12" cy="996.07" r="1.85" fill="#aedba5" stroke="#fff" stroke-width="0.45"/>
<circle cx="292.68" cy="987.37" r="1.85" fill="#aedba5" stroke="#fff" stroke-width="0.45"/>
<circle cx="293.97" cy="983.96" r="1.85" fill="#aedba5" stroke="#fff" stroke-width="0.45"/>
<circle cx="292.19" cy="995.26" r="1.85" fill="#aedba5" stroke="#fff" stroke-width="0.45"/>
<circle cx="297.78" cy="987.58" r="1.85" fill="#aedba5" stroke="#fff" stroke-width="0.45"/>
<circle cx="293.35" cy="991.45" r="1.85" fill="#aedba5" stroke="#fff" stroke-width="0.45"/>
<circle cx="294.77" cy="989.06" r="1.85" fill="#aedba5" stroke="#fff" stroke-width="0.45"/>
<circle cx="294.8" cy="994.56" r="1.85" fill="#aedba5" stroke="#fff" stroke-width="0.45"/>
<circle cx="295.79" cy="985.92" r="1.85" fill="#aedba5" stroke="#fff" stroke-width="0.45"/>
<circle cx="297.65" cy="994.2" r="1.85" fill="#aedba5" stroke="#fff" stroke-width="0.45"/>
<circle cx="291.43" cy="984.9" r="1.85" fill="#aedba5" stroke="#fff" stroke-width="0.45"/>
<circle cx="291.58" cy="992.89" r="1.85" fill="#aedba5" stroke="#fff" stroke-width="0.45"/>
<circle cx="291.22" cy="990.82" r="1.85" fill="#aedba5" stroke="#fff" stroke-width="0.45"/>
<circle cx="295.2" cy="992.44" r="1.85" fill="#aedba5" stroke="#fff" stroke-width="0.45"/>
<circle cx="296.56" cy="984.28" r="1.85" fill="#aedba5" stroke="#fff" stroke-width="0.45"/>
<circle cx="296.3" cy="990.29" r="1.85" fill="#aedba5" stroke="#fff" stroke-width="0.45"/>
<circle cx="298.04" cy="985.89" r="1.85" fill="#aedba5" stroke="#fff" stroke-width="0.45"/>
<circle cx="292.79" cy="989.8" r="1.85" fill="#aedba5" stroke="#fff" stroke-width="0.45"/>
<circle cx="293.43" cy="993.66" r="1.85" fill="#aedba5" stroke="#fff" stroke-width="0.45"/>
<circle cx="294.5" cy="987.09" r="1.85" fill="#aedba5" stroke="#fff" stroke-width="0.45"/>
<circle cx="295.27" cy="996.05" r="1.85" fill="#aedba5" stroke="#fff" stroke-width="0.45"/>
<circle cx="291.27" cy="983.08" r="1.85" fill="#aedba5" stroke="#fff" stroke-width="0.45"/>
<line x1="307" y1="998" x2="307" y2="1006.8" stroke="#333" stroke-width="1.2" stroke-dasharray="2.5 1.5"/>
<rect x="460" y="791" width="2" height="243" fill="#c4c4c4" stroke="none" stroke-width="1" />
<rect x="460" y="1033" width="285.8" height="2" fill="#c4c4c4" stroke="none" stroke-width="1" />
<text x="456.3" y="845" font-size="26" text-anchor="end" font-weight="normal" fill="#000" >0.6</text>
<text x="456.3" y="921.5" font-size="26" text-anchor="end" font-weight="normal" fill="#000" >0.5</text>
<text x="456.3" y="998" font-size="26" text-anchor="end" font-weight="normal" fill="#000" >0.4</text>
<path d="M494.6 816.6C495.35 817.33 497.87 819.38 499.1 821C500.33 822.62 502.25 824.13 502 826.3C501.75 828.47 499 830.88 497.6 834C496.2 837.12 493.27 841.83 493.6 845C493.93 848.17 497.5 849.98 499.6 853C501.7 856.02 505.87 860.1 506.2 863.1C506.53 866.1 503.2 868.38 501.6 871C500 873.62 496.77 876.8 496.6 878.8C496.43 880.8 499.43 881.58 500.6 883C501.77 884.42 504.1 885.3 503.6 887.3C503.1 889.3 499.27 892.58 497.6 895C495.93 897.42 494.27 900.67 493.6 901.8L493.6 901.8L493.6 816.6Z" fill="#afc2de" fill-opacity="1.0"/>
<line x1="493.6" y1="816.6" x2="493.6" y2="901.8" stroke="#444" stroke-width="1" />
<rect x="493.6" y="850.2" width="5.1" height="34.1" fill="#2d5b9f" stroke="#444" stroke-width="1" />
<line x1="493.6" y1="865.8" x2="498.7" y2="865.8" stroke="#333" stroke-width="2" />
<circle cx="479.2" cy="832.02" r="1.45" fill="#2b599d" stroke="#fff" stroke-width="0.45"/>
<circle cx="482.49" cy="828.11" r="1.45" fill="#2b599d" stroke="#fff" stroke-width="0.45"/>
<circle cx="481.59" cy="823.6" r="1.45" fill="#2b599d" stroke="#fff" stroke-width="0.45"/>
<circle cx="478.07" cy="826.11" r="1.45" fill="#2b599d" stroke="#fff" stroke-width="0.45"/>
<circle cx="482.15" cy="820.51" r="1.45" fill="#2b599d" stroke="#fff" stroke-width="0.45"/>
<circle cx="485.03" cy="832.93" r="1.45" fill="#2b599d" stroke="#fff" stroke-width="0.45"/>
<circle cx="484.71" cy="826.06" r="1.45" fill="#2b599d" stroke="#fff" stroke-width="0.45"/>
<circle cx="478.92" cy="836.44" r="1.45" fill="#2b599d" stroke="#fff" stroke-width="0.45"/>
<circle cx="478.24" cy="820.96" r="1.45" fill="#2b599d" stroke="#fff" stroke-width="0.45"/>
<circle cx="483.08" cy="837.64" r="1.45" fill="#2b599d" stroke="#fff" stroke-width="0.45"/>
<circle cx="481.9" cy="833.1" r="1.45" fill="#2b599d" stroke="#fff" stroke-width="0.45"/>
<circle cx="478.71" cy="856.66" r="1.45" fill="#2b599d" stroke="#fff" stroke-width="0.45"/>
<circle cx="478.23" cy="863.91" r="1.45" fill="#2b599d" stroke="#fff" stroke-width="0.45"/>
<circle cx="479.04" cy="872.55" r="1.45" fill="#2b599d" stroke="#fff" stroke-width="0.45"/>
<circle cx="482.64" cy="857.33" r="1.45" fill="#2b599d" stroke="#fff" stroke-width="0.45"/>
<circle cx="481.82" cy="861.39" r="1.45" fill="#2b599d" stroke="#fff" stroke-width="0.45"/>
<circle cx="480.69" cy="869.31" r="1.45" fill="#2b599d" stroke="#fff" stroke-width="0.45"/>
<circle cx="483.03" cy="872.68" r="1.45" fill="#2b599d" stroke="#fff" stroke-width="0.45"/>
<circle cx="481.57" cy="866.01" r="1.45" fill="#2b599d" stroke="#fff" stroke-width="0.45"/>
<circle cx="484.89" cy="862.02" r="1.45" fill="#2b599d" stroke="#fff" stroke-width="0.45"/>
<circle cx="483.77" cy="869.6" r="1.45" fill="#2b599d" stroke="#fff" stroke-width="0.45"/>
<circle cx="484.97" cy="854.86" r="1.45" fill="#2b599d" stroke="#fff" stroke-width="0.45"/>
<circle cx="478.32" cy="867.22" r="1.45" fill="#2b599d" stroke="#fff" stroke-width="0.45"/>
<circle cx="484.57" cy="865.79" r="1.45" fill="#2b599d" stroke="#fff" stroke-width="0.45"/>
<circle cx="478.91" cy="859.66" r="1.45" fill="#2b599d" stroke="#fff" stroke-width="0.45"/>
<circle cx="480.81" cy="854.8" r="1.45" fill="#2b599d" stroke="#fff" stroke-width="0.45"/>
<circle cx="481.23" cy="859.27" r="1.45" fill="#2b599d" stroke="#fff" stroke-width="0.45"/>
<circle cx="480.71" cy="874.79" r="1.45" fill="#2b599d" stroke="#fff" stroke-width="0.45"/>
<circle cx="478.83" cy="888.7" r="1.45" fill="#2b599d" stroke="#fff" stroke-width="0.45"/>
<circle cx="483.03" cy="886.81" r="1.45" fill="#2b599d" stroke="#fff" stroke-width="0.45"/>
<circle cx="480.79" cy="892.97" r="1.45" fill="#2b599d" stroke="#fff" stroke-width="0.45"/>
<circle cx="478.86" cy="885.55" r="1.45" fill="#2b599d" stroke="#fff" stroke-width="0.45"/>
<circle cx="482.96" cy="895.05" r="1.45" fill="#2b599d" stroke="#fff" stroke-width="0.45"/>
<circle cx="484.91" cy="883.75" r="1.45" fill="#2b599d" stroke="#fff" stroke-width="0.45"/>
<circle cx="479.54" cy="879.22" r="1.45" fill="#2b599d" stroke="#fff" stroke-width="0.45"/>
<circle cx="482.4" cy="882.03" r="1.45" fill="#2b599d" stroke="#fff" stroke-width="0.45"/>
<circle cx="485.02" cy="880.36" r="1.45" fill="#2b599d" stroke="#fff" stroke-width="0.45"/>
<circle cx="478.49" cy="897.31" r="1.45" fill="#2b599d" stroke="#fff" stroke-width="0.45"/>
<circle cx="483.91" cy="891.59" r="1.45" fill="#2b599d" stroke="#fff" stroke-width="0.45"/>
<path d="M552.3 828.7C553.13 829 555.92 829.68 557.3 830.5C558.68 831.32 560.93 832.35 560.6 833.6C560.27 834.85 557.18 836.27 555.3 838C553.42 839.73 550.55 842 549.3 844C548.05 846 547.8 847.52 547.8 850C547.8 852.48 544.45 856.27 549.3 858.9C554.15 861.53 576.73 863.48 576.9 865.8C577.07 868.12 554.9 870.43 550.3 872.8C545.7 875.17 548.13 878.13 549.3 880C550.47 881.87 555.22 882.68 557.3 884C559.38 885.32 562.3 886.23 561.8 887.9C561.3 889.57 556.72 891.98 554.3 894C551.88 896.02 548.47 899 547.3 900L547.3 900L547.3 828.7Z" fill="#b4c8e3" fill-opacity="1.0"/>
<line x1="547.3" y1="828.7" x2="547.3" y2="900" stroke="#444" stroke-width="1" />
<rect x="547.3" y="857.1" width="5.8" height="22.3" fill="#3b72b5" stroke="#444" stroke-width="1" />
<line x1="547.3" y1="865.8" x2="553.1" y2="865.8" stroke="#333" stroke-width="2" />
<circle cx="539.04" cy="830.07" r="1.45" fill="#3a70b3" stroke="#fff" stroke-width="0.45"/>
<circle cx="532.03" cy="838.26" r="1.45" fill="#3a70b3" stroke="#fff" stroke-width="0.45"/>
<circle cx="533.23" cy="829.88" r="1.45" fill="#3a70b3" stroke="#fff" stroke-width="0.45"/>
<circle cx="536.74" cy="832.03" r="1.45" fill="#3a70b3" stroke="#fff" stroke-width="0.45"/>
<circle cx="538.52" cy="863.08" r="1.45" fill="#3a70b3" stroke="#fff" stroke-width="0.45"/>
<circle cx="536.36" cy="870.19" r="1.45" fill="#3a70b3" stroke="#fff" stroke-width="0.45"/>
<circle cx="538.46" cy="866.71" r="1.45" fill="#3a70b3" stroke="#fff" stroke-width="0.45"/>
<circle cx="534.18" cy="862.65" r="1.45" fill="#3a70b3" stroke="#fff" stroke-width="0.45"/>
<circle cx="532.92" cy="869.1" r="1.45" fill="#3a70b3" stroke="#fff" stroke-width="0.45"/>
<circle cx="532.22" cy="866.12" r="1.45" fill="#3a70b3" stroke="#fff" stroke-width="0.45"/>
<circle cx="535.92" cy="865.12" r="1.45" fill="#3a70b3" stroke="#fff" stroke-width="0.45"/>
<circle cx="536.38" cy="861.15" r="1.45" fill="#3a70b3" stroke="#fff" stroke-width="0.45"/>
<circle cx="531.93" cy="861.56" r="1.45" fill="#3a70b3" stroke="#fff" stroke-width="0.45"/>
<circle cx="535.23" cy="867.8" r="1.45" fill="#3a70b3" stroke="#fff" stroke-width="0.45"/>
<circle cx="539" cy="870.06" r="1.45" fill="#3a70b3" stroke="#fff" stroke-width="0.45"/>
<circle cx="537.55" cy="868.28" r="1.45" fill="#3a70b3" stroke="#fff" stroke-width="0.45"/>
<circle cx="534.34" cy="870.53" r="1.45" fill="#3a70b3" stroke="#fff" stroke-width="0.45"/>
<circle cx="534.84" cy="886.91" r="1.45" fill="#3a70b3" stroke="#fff" stroke-width="0.45"/>
<circle cx="534.06" cy="890.15" r="1.45" fill="#3a70b3" stroke="#fff" stroke-width="0.45"/>
<circle cx="538.78" cy="890.09" r="1.45" fill="#3a70b3" stroke="#fff" stroke-width="0.45"/>
<circle cx="539.17" cy="886.41" r="1.45" fill="#3a70b3" stroke="#fff" stroke-width="0.45"/>
<circle cx="539.24" cy="892.71" r="1.45" fill="#3a70b3" stroke="#fff" stroke-width="0.45"/>
<circle cx="532.24" cy="885.99" r="1.45" fill="#3a70b3" stroke="#fff" stroke-width="0.45"/>
<path d="M609.6 835.1C610.1 835.5 611.72 836.55 612.6 837.5C613.48 838.45 615.4 839.38 614.9 840.8C614.4 842.22 611.65 843.88 609.6 846C607.55 848.12 602.6 850.83 602.6 853.5C602.6 856.17 606.98 858.88 609.6 862C612.22 865.12 618.3 869.2 618.3 872.2C618.3 875.2 612.05 877.53 609.6 880C607.15 882.47 603.43 885.17 603.6 887C603.77 888.83 608.82 889.55 610.6 891C612.38 892.45 614.63 894.2 614.3 895.7C613.97 897.2 610.72 898.48 608.6 900C606.48 901.52 602.77 904 601.6 904.8L601.6 904.8L601.6 835.1Z" fill="#c3d6eb" fill-opacity="1.0"/>
<line x1="601.6" y1="835.1" x2="601.6" y2="904.8" stroke="#444" stroke-width="1" />
<rect x="601.6" y="856.3" width="5.1" height="31.4" fill="#5b95cb" stroke="#444" stroke-width="1" />
<line x1="601.6" y1="872.8" x2="606.7" y2="872.8" stroke="#333" stroke-width="2" />
<circle cx="593.22" cy="845.31" r="1.45" fill="#5a94ca" stroke="#fff" stroke-width="0.45"/>
<circle cx="593" cy="837.48" r="1.45" fill="#5a94ca" stroke="#fff" stroke-width="0.45"/>
<circle cx="590.89" cy="840.56" r="1.45" fill="#5a94ca" stroke="#fff" stroke-width="0.45"/>
<circle cx="586.92" cy="837.5" r="1.45" fill="#5a94ca" stroke="#fff" stroke-width="0.45"/>
<circle cx="587.92" cy="845.55" r="1.45" fill="#5a94ca" stroke="#fff" stroke-width="0.45"/>
<circle cx="587.51" cy="842.44" r="1.45" fill="#5a94ca" stroke="#fff" stroke-width="0.45"/>
<circle cx="589.99" cy="837.82" r="1.45" fill="#5a94ca" stroke="#fff" stroke-width="0.45"/>
<circle cx="590.74" cy="843.7" r="1.45" fill="#5a94ca" stroke="#fff" stroke-width="0.45"/>
<circle cx="593.45" cy="842.44" r="1.45" fill="#5a94ca" stroke="#fff" stroke-width="0.45"/>
<circle cx="588.48" cy="840.07" r="1.45" fill="#5a94ca" stroke="#fff" stroke-width="0.45"/>
<circle cx="593.23" cy="861.67" r="1.45" fill="#5a94ca" stroke="#fff" stroke-width="0.45"/>
<circle cx="588.84" cy="864.2" r="1.45" fill="#5a94ca" stroke="#fff" stroke-width="0.45"/>
<circle cx="590.41" cy="866.97" r="1.45" fill="#5a94ca" stroke="#fff" stroke-width="0.45"/>
<circle cx="593.23" cy="865.84" r="1.45" fill="#5a94ca" stroke="#fff" stroke-width="0.45"/>
<circle cx="587.18" cy="861.48" r="1.45" fill="#5a94ca" stroke="#fff" stroke-width="0.45"/>
<circle cx="587.52" cy="867.21" r="1.45" fill="#5a94ca" stroke="#fff" stroke-width="0.45"/>
<circle cx="592.81" cy="873.79" r="1.45" fill="#5a94ca" stroke="#fff" stroke-width="0.45"/>
<circle cx="587.41" cy="872.64" r="1.45" fill="#5a94ca" stroke="#fff" stroke-width="0.45"/>
<circle cx="592.71" cy="877.68" r="1.45" fill="#5a94ca" stroke="#fff" stroke-width="0.45"/>
<circle cx="592.42" cy="870.42" r="1.45" fill="#5a94ca" stroke="#fff" stroke-width="0.45"/>
<circle cx="587.07" cy="879.75" r="1.45" fill="#5a94ca" stroke="#fff" stroke-width="0.45"/>
<circle cx="591.12" cy="882.51" r="1.45" fill="#5a94ca" stroke="#fff" stroke-width="0.45"/>
<circle cx="586.75" cy="875.77" r="1.45" fill="#5a94ca" stroke="#fff" stroke-width="0.45"/>
<circle cx="593.45" cy="884.36" r="1.45" fill="#5a94ca" stroke="#fff" stroke-width="0.45"/>
<circle cx="589.96" cy="879.41" r="1.45" fill="#5a94ca" stroke="#fff" stroke-width="0.45"/>
<circle cx="589.56" cy="876.15" r="1.45" fill="#5a94ca" stroke="#fff" stroke-width="0.45"/>
<circle cx="589.94" cy="894.04" r="1.45" fill="#5a94ca" stroke="#fff" stroke-width="0.45"/>
<circle cx="590.19" cy="897.73" r="1.45" fill="#5a94ca" stroke="#fff" stroke-width="0.45"/>
<circle cx="587.18" cy="892.81" r="1.45" fill="#5a94ca" stroke="#fff" stroke-width="0.45"/>
<circle cx="593.56" cy="897.17" r="1.45" fill="#5a94ca" stroke="#fff" stroke-width="0.45"/>
<circle cx="593.05" cy="893.19" r="1.45" fill="#5a94ca" stroke="#fff" stroke-width="0.45"/>
<circle cx="587.13" cy="898.82" r="1.45" fill="#5a94ca" stroke="#fff" stroke-width="0.45"/>
<circle cx="587.11" cy="896.03" r="1.45" fill="#5a94ca" stroke="#fff" stroke-width="0.45"/>
<circle cx="592.69" cy="899.18" r="1.45" fill="#5a94ca" stroke="#fff" stroke-width="0.45"/>
<path d="M659.3 847.2C660.13 847.75 662.75 849.2 664.3 850.5C665.85 851.8 668.6 853.58 668.6 855C668.6 856.42 665.52 857.72 664.3 859C663.08 860.28 660.97 860.87 661.3 862.7C661.63 864.53 664.57 867.02 666.3 870C668.03 872.98 672.37 877.47 671.7 880.6C671.03 883.73 664.78 886.4 662.3 888.8C659.82 891.2 656.63 893.13 656.8 895C656.97 896.87 661.48 898.3 663.3 900C665.12 901.7 667.87 903.37 667.7 905.2C667.53 907.03 664.2 908.98 662.3 911C660.4 913.02 657.3 916.25 656.3 917.3L656.3 917.3L656.3 847.2Z" fill="#d2e2f1" fill-opacity="1.0"/>
<line x1="656.3" y1="847.2" x2="656.3" y2="917.3" stroke="#444" stroke-width="1" />
<rect x="656.3" y="865.6" width="5.4" height="29.7" fill="#7cb0d9" stroke="#444" stroke-width="1" />
<line x1="656.3" y1="879.1" x2="661.7" y2="879.1" stroke="#333" stroke-width="2" />
<circle cx="645.92" cy="881.62" r="1.45" fill="#78acd6" stroke="#fff" stroke-width="0.45"/>
<circle cx="642" cy="887.51" r="1.45" fill="#78acd6" stroke="#fff" stroke-width="0.45"/>
<circle cx="642.09" cy="875.35" r="1.45" fill="#78acd6" stroke="#fff" stroke-width="0.45"/>
<circle cx="641.33" cy="878.57" r="1.45" fill="#78acd6" stroke="#fff" stroke-width="0.45"/>
<circle cx="647.96" cy="854.72" r="1.45" fill="#78acd6" stroke="#fff" stroke-width="0.45"/>
<circle cx="646.12" cy="866.93" r="1.45" fill="#78acd6" stroke="#fff" stroke-width="0.45"/>
<circle cx="643.07" cy="861.77" r="1.45" fill="#78acd6" stroke="#fff" stroke-width="0.45"/>
<circle cx="647.26" cy="884.78" r="1.45" fill="#78acd6" stroke="#fff" stroke-width="0.45"/>
<circle cx="642.99" cy="883.67" r="1.45" fill="#78acd6" stroke="#fff" stroke-width="0.45"/>
<circle cx="641.17" cy="854.03" r="1.45" fill="#78acd6" stroke="#fff" stroke-width="0.45"/>
<circle cx="647.01" cy="860.32" r="1.45" fill="#78acd6" stroke="#fff" stroke-width="0.45"/>
<circle cx="641.34" cy="868.79" r="1.45" fill="#78acd6" stroke="#fff" stroke-width="0.45"/>
<circle cx="646.31" cy="870.19" r="1.45" fill="#78acd6" stroke="#fff" stroke-width="0.45"/>
<circle cx="642.5" cy="857.32" r="1.45" fill="#78acd6" stroke="#fff" stroke-width="0.45"/>
<circle cx="643.68" cy="865.14" r="1.45" fill="#78acd6" stroke="#fff" stroke-width="0.45"/>
<circle cx="645.39" cy="851.06" r="1.45" fill="#78acd6" stroke="#fff" stroke-width="0.45"/>
<circle cx="646.7" cy="877.65" r="1.45" fill="#78acd6" stroke="#fff" stroke-width="0.45"/>
<circle cx="647.55" cy="863.97" r="1.45" fill="#78acd6" stroke="#fff" stroke-width="0.45"/>
<circle cx="641.49" cy="881.2" r="1.45" fill="#78acd6" stroke="#fff" stroke-width="0.45"/>
<circle cx="644.57" cy="873.37" r="1.45" fill="#78acd6" stroke="#fff" stroke-width="0.45"/>
<circle cx="641.7" cy="871.83" r="1.45" fill="#78acd6" stroke="#fff" stroke-width="0.45"/>
<circle cx="648" cy="873.92" r="1.45" fill="#78acd6" stroke="#fff" stroke-width="0.45"/>
<circle cx="645.65" cy="854.02" r="1.45" fill="#78acd6" stroke="#fff" stroke-width="0.45"/>
<circle cx="645.78" cy="857.32" r="1.45" fill="#78acd6" stroke="#fff" stroke-width="0.45"/>
<circle cx="641.78" cy="850.86" r="1.45" fill="#78acd6" stroke="#fff" stroke-width="0.45"/>
<circle cx="645.04" cy="886.87" r="1.45" fill="#78acd6" stroke="#fff" stroke-width="0.45"/>
<circle cx="643.86" cy="879.27" r="1.45" fill="#78acd6" stroke="#fff" stroke-width="0.45"/>
<circle cx="640.78" cy="860.4" r="1.45" fill="#78acd6" stroke="#fff" stroke-width="0.45"/>
<circle cx="640.78" cy="864.35" r="1.45" fill="#78acd6" stroke="#fff" stroke-width="0.45"/>
<circle cx="647.82" cy="880.19" r="1.45" fill="#78acd6" stroke="#fff" stroke-width="0.45"/>
<circle cx="647.34" cy="893.64" r="1.45" fill="#78acd6" stroke="#fff" stroke-width="0.45"/>
<circle cx="644.08" cy="907.04" r="1.45" fill="#78acd6" stroke="#fff" stroke-width="0.45"/>
<circle cx="644.09" cy="903.98" r="1.45" fill="#78acd6" stroke="#fff" stroke-width="0.45"/>
<circle cx="647.14" cy="904.85" r="1.45" fill="#78acd6" stroke="#fff" stroke-width="0.45"/>
<circle cx="641.24" cy="905.55" r="1.45" fill="#78acd6" stroke="#fff" stroke-width="0.45"/>
<circle cx="641.91" cy="903.12" r="1.45" fill="#78acd6" stroke="#fff" stroke-width="0.45"/>
<circle cx="643.55" cy="913.36" r="1.45" fill="#78acd6" stroke="#fff" stroke-width="0.45"/>
<path d="M720.4 886.4C721.43 886.72 726.93 887.2 726.6 888.3C726.27 889.4 720.85 891.05 718.4 893C715.95 894.95 712.73 897.23 711.9 900C711.07 902.77 711.65 907.1 713.4 909.6C715.15 912.1 717.47 913 722.4 915C727.33 917 742.67 919.43 743 921.6C743.33 923.77 729.5 925.5 724.4 928C719.3 930.5 714.73 934.2 712.4 936.6C710.07 939 710.73 941.43 710.4 942.4L710.4 942.4L710.4 886.4Z" fill="#deeaf5" fill-opacity="1.0"/>
<line x1="710.4" y1="886.4" x2="710.4" y2="942.4" stroke="#444" stroke-width="1" />
<rect x="710.4" y="909.4" width="5.6" height="16.1" fill="#a9cde7" stroke="#444" stroke-width="1" />
<line x1="710.4" y1="920.2" x2="716" y2="920.2" stroke="#333" stroke-width="2" />
<circle cx="697.7" cy="889.94" r="1.45" fill="#a3c8e4" stroke="#fff" stroke-width="0.45"/>
<circle cx="700.73" cy="886.7" r="1.45" fill="#a3c8e4" stroke="#fff" stroke-width="0.45"/>
<circle cx="696.48" cy="886.46" r="1.45" fill="#a3c8e4" stroke="#fff" stroke-width="0.45"/>
<circle cx="695.35" cy="889.12" r="1.45" fill="#a3c8e4" stroke="#fff" stroke-width="0.45"/>
<circle cx="701.59" cy="889.86" r="1.45" fill="#a3c8e4" stroke="#fff" stroke-width="0.45"/>
<circle cx="695.55" cy="893.77" r="1.45" fill="#a3c8e4" stroke="#fff" stroke-width="0.45"/>
<circle cx="701.65" cy="897.78" r="1.45" fill="#a3c8e4" stroke="#fff" stroke-width="0.45"/>
<circle cx="700.88" cy="933.96" r="1.45" fill="#a3c8e4" stroke="#fff" stroke-width="0.45"/>
<circle cx="695.46" cy="931.16" r="1.45" fill="#a3c8e4" stroke="#fff" stroke-width="0.45"/>
<circle cx="695.63" cy="937.99" r="1.45" fill="#a3c8e4" stroke="#fff" stroke-width="0.45"/>
<circle cx="695.73" cy="914.93" r="1.45" fill="#a3c8e4" stroke="#fff" stroke-width="0.45"/>
<circle cx="701.41" cy="925.26" r="1.45" fill="#a3c8e4" stroke="#fff" stroke-width="0.45"/>
<circle cx="696.41" cy="923.01" r="1.45" fill="#a3c8e4" stroke="#fff" stroke-width="0.45"/>
<circle cx="699.3" cy="919.71" r="1.45" fill="#a3c8e4" stroke="#fff" stroke-width="0.45"/>
<circle cx="701.19" cy="930.33" r="1.45" fill="#a3c8e4" stroke="#fff" stroke-width="0.45"/>
<circle cx="698.76" cy="926.72" r="1.45" fill="#a3c8e4" stroke="#fff" stroke-width="0.45"/>
<circle cx="699.24" cy="936.84" r="1.45" fill="#a3c8e4" stroke="#fff" stroke-width="0.45"/>
<circle cx="700.37" cy="916.17" r="1.45" fill="#a3c8e4" stroke="#fff" stroke-width="0.45"/>
<circle cx="699.51" cy="913.28" r="1.45" fill="#a3c8e4" stroke="#fff" stroke-width="0.45"/>
<circle cx="695.69" cy="918.4" r="1.45" fill="#a3c8e4" stroke="#fff" stroke-width="0.45"/>
<circle cx="696.11" cy="928.23" r="1.45" fill="#a3c8e4" stroke="#fff" stroke-width="0.45"/>
<circle cx="701.56" cy="922.35" r="1.45" fill="#a3c8e4" stroke="#fff" stroke-width="0.45"/>
<circle cx="696.83" cy="934.99" r="1.45" fill="#a3c8e4" stroke="#fff" stroke-width="0.45"/>
<circle cx="696.51" cy="925.4" r="1.45" fill="#a3c8e4" stroke="#fff" stroke-width="0.45"/>
<circle cx="701.62" cy="938.06" r="1.45" fill="#a3c8e4" stroke="#fff" stroke-width="0.45"/>
<circle cx="698.12" cy="916.82" r="1.45" fill="#a3c8e4" stroke="#fff" stroke-width="0.45"/>
<circle cx="699.49" cy="928.82" r="1.45" fill="#a3c8e4" stroke="#fff" stroke-width="0.45"/>
<circle cx="698.81" cy="934.52" r="1.45" fill="#a3c8e4" stroke="#fff" stroke-width="0.45"/>
<circle cx="697.89" cy="932.56" r="1.45" fill="#a3c8e4" stroke="#fff" stroke-width="0.45"/>
<circle cx="699.47" cy="924.68" r="1.45" fill="#a3c8e4" stroke="#fff" stroke-width="0.45"/>
<circle cx="697.87" cy="938.75" r="1.45" fill="#a3c8e4" stroke="#fff" stroke-width="0.45"/>
<rect x="894.6" y="788.1" width="2" height="242.6" fill="#c4c4c4" stroke="none" stroke-width="1" />
<rect x="894.6" y="1029.7" width="285.1" height="2" fill="#c4c4c4" stroke="none" stroke-width="1" />
<text x="888.7" y="846" font-size="26" text-anchor="end" font-weight="normal" fill="#000" >0.6</text>
<text x="888.7" y="921.3" font-size="26" text-anchor="end" font-weight="normal" fill="#000" >0.5</text>
<text x="888.7" y="996.7" font-size="26" text-anchor="end" font-weight="normal" fill="#000" >0.4</text>
<path d="M950.5 799.6L974.9 805.2L942.5 812L934.5 816L934.5 829L940.5 831.1L956.9 836.2L942.5 842.4L934.5 842.4L934.5 799.6Z" fill="#c0badb" fill-opacity="1.0"/>
<line x1="934.5" y1="799.6" x2="934.5" y2="842.4" stroke="#444" stroke-width="1" />
<rect x="934.5" y="805.2" width="7.1" height="30.5" fill="#5f4c9d" stroke="#444" stroke-width="1" />
<line x1="934.5" y1="806.7" x2="941.6" y2="806.7" stroke="#333" stroke-width="2" />
<circle cx="915.12" cy="799.96" r="1.5" fill="#5a489a" stroke="#fff" stroke-width="0.45"/>
<circle cx="918.73" cy="806.14" r="1.5" fill="#5a489a" stroke="#fff" stroke-width="0.45"/>
<circle cx="921.29" cy="800.23" r="1.5" fill="#5a489a" stroke="#fff" stroke-width="0.45"/>
<circle cx="918.92" cy="809.51" r="1.5" fill="#5a489a" stroke="#fff" stroke-width="0.45"/>
<circle cx="923.93" cy="803.1" r="1.5" fill="#5a489a" stroke="#fff" stroke-width="0.45"/>
<circle cx="924.06" cy="807.81" r="1.5" fill="#5a489a" stroke="#fff" stroke-width="0.45"/>
<circle cx="918.38" cy="800.95" r="1.5" fill="#5a489a" stroke="#fff" stroke-width="0.45"/>
<circle cx="915.29" cy="806.69" r="1.5" fill="#5a489a" stroke="#fff" stroke-width="0.45"/>
<circle cx="915.91" cy="803.06" r="1.5" fill="#5a489a" stroke="#fff" stroke-width="0.45"/>
<circle cx="921.56" cy="805.01" r="1.5" fill="#5a489a" stroke="#fff" stroke-width="0.45"/>
<circle cx="920.75" cy="807.89" r="1.5" fill="#5a489a" stroke="#fff" stroke-width="0.45"/>
<circle cx="919.28" cy="803.09" r="1.5" fill="#5a489a" stroke="#fff" stroke-width="0.45"/>
<circle cx="916.37" cy="809.27" r="1.5" fill="#5a489a" stroke="#fff" stroke-width="0.45"/>
<circle cx="923.69" cy="805.88" r="1.5" fill="#5a489a" stroke="#fff" stroke-width="0.45"/>
<circle cx="924.06" cy="836.44" r="1.5" fill="#5a489a" stroke="#fff" stroke-width="0.45"/>
<circle cx="921.44" cy="837.94" r="1.5" fill="#5a489a" stroke="#fff" stroke-width="0.45"/>
<circle cx="918.23" cy="838.8" r="1.5" fill="#5a489a" stroke="#fff" stroke-width="0.45"/>
<circle cx="917.41" cy="834.49" r="1.5" fill="#5a489a" stroke="#fff" stroke-width="0.45"/>
<circle cx="920.56" cy="834.55" r="1.5" fill="#5a489a" stroke="#fff" stroke-width="0.45"/>
<circle cx="915.18" cy="838.47" r="1.5" fill="#5a489a" stroke="#fff" stroke-width="0.45"/>
<circle cx="915.37" cy="835.62" r="1.5" fill="#5a489a" stroke="#fff" stroke-width="0.45"/>
<circle cx="922.64" cy="834.38" r="1.5" fill="#5a489a" stroke="#fff" stroke-width="0.45"/>
<circle cx="923.53" cy="838.76" r="1.5" fill="#5a489a" stroke="#fff" stroke-width="0.45"/>
<circle cx="919" cy="835.99" r="1.5" fill="#5a489a" stroke="#fff" stroke-width="0.45"/>
<path d="M1002.2 810.9L1022.8 817L1022.2 818.2L1039.2 823.6L1029 828.9L1022.2 831.1L1006.2 837.9L1002.2 837.9L1002.2 810.9Z" fill="#cecae6" fill-opacity="1.0"/>
<line x1="1002.2" y1="812" x2="1002.2" y2="837.9" stroke="#444" stroke-width="1" />
<rect x="1002.2" y="819.5" width="6.3" height="10.9" fill="#7d73b7" stroke="#444" stroke-width="1" />
<line x1="1002.2" y1="825.2" x2="1008.5" y2="825.2" stroke="#333" stroke-width="2" />
<circle cx="983.33" cy="818.09" r="1.5" fill="#7a70b6" stroke="#fff" stroke-width="0.45"/>
<circle cx="985.45" cy="835.26" r="1.5" fill="#7a70b6" stroke="#fff" stroke-width="0.45"/>
<circle cx="987.26" cy="830.76" r="1.5" fill="#7a70b6" stroke="#fff" stroke-width="0.45"/>
<circle cx="983.54" cy="825.47" r="1.5" fill="#7a70b6" stroke="#fff" stroke-width="0.45"/>
<circle cx="990.52" cy="825.82" r="1.5" fill="#7a70b6" stroke="#fff" stroke-width="0.45"/>
<circle cx="991.48" cy="834.8" r="1.5" fill="#7a70b6" stroke="#fff" stroke-width="0.45"/>
<circle cx="986.09" cy="812.77" r="1.5" fill="#7a70b6" stroke="#fff" stroke-width="0.45"/>
<circle cx="989.7" cy="815.91" r="1.5" fill="#7a70b6" stroke="#fff" stroke-width="0.45"/>
<circle cx="982.69" cy="831.02" r="1.5" fill="#7a70b6" stroke="#fff" stroke-width="0.45"/>
<circle cx="983.06" cy="813.71" r="1.5" fill="#7a70b6" stroke="#fff" stroke-width="0.45"/>
<circle cx="988.12" cy="818.48" r="1.5" fill="#7a70b6" stroke="#fff" stroke-width="0.45"/>
<circle cx="985.44" cy="822.37" r="1.5" fill="#7a70b6" stroke="#fff" stroke-width="0.45"/>
<circle cx="982.66" cy="836.54" r="1.5" fill="#7a70b6" stroke="#fff" stroke-width="0.45"/>
<circle cx="987.54" cy="825.47" r="1.5" fill="#7a70b6" stroke="#fff" stroke-width="0.45"/>
<circle cx="988.17" cy="836.97" r="1.5" fill="#7a70b6" stroke="#fff" stroke-width="0.45"/>
<circle cx="991.13" cy="822.18" r="1.5" fill="#7a70b6" stroke="#fff" stroke-width="0.45"/>
<circle cx="991.78" cy="818.93" r="1.5" fill="#7a70b6" stroke="#fff" stroke-width="0.45"/>
<circle cx="990.68" cy="830.72" r="1.5" fill="#7a70b6" stroke="#fff" stroke-width="0.45"/>
<circle cx="984.23" cy="828.43" r="1.5" fill="#7a70b6" stroke="#fff" stroke-width="0.45"/>
<circle cx="985.65" cy="816.11" r="1.5" fill="#7a70b6" stroke="#fff" stroke-width="0.45"/>
<circle cx="989.37" cy="813.01" r="1.5" fill="#7a70b6" stroke="#fff" stroke-width="0.45"/>
<circle cx="984.23" cy="833.16" r="1.5" fill="#7a70b6" stroke="#fff" stroke-width="0.45"/>
<circle cx="989.8" cy="828.38" r="1.5" fill="#7a70b6" stroke="#fff" stroke-width="0.45"/>
<circle cx="988.45" cy="833.58" r="1.5" fill="#7a70b6" stroke="#fff" stroke-width="0.45"/>
<circle cx="983.36" cy="821.02" r="1.5" fill="#7a70b6" stroke="#fff" stroke-width="0.45"/>
<circle cx="987.97" cy="821.12" r="1.5" fill="#7a70b6" stroke="#fff" stroke-width="0.45"/>
<circle cx="985.54" cy="819.09" r="1.5" fill="#7a70b6" stroke="#fff" stroke-width="0.45"/>
<circle cx="984.73" cy="837.67" r="1.5" fill="#7a70b6" stroke="#fff" stroke-width="0.45"/>
<circle cx="991.66" cy="816.8" r="1.5" fill="#7a70b6" stroke="#fff" stroke-width="0.45"/>
<circle cx="987.76" cy="815.19" r="1.5" fill="#7a70b6" stroke="#fff" stroke-width="0.45"/>
<path d="M1073.5 804.2C1073.88 804.77 1075.55 805.92 1075.8 807.6C1076.05 809.28 1074.88 812.07 1075 814.3C1075.12 816.53 1075.75 818.73 1076.5 821C1077.25 823.27 1079.17 825.47 1079.5 827.9C1079.83 830.33 1078.07 833.03 1078.5 835.6C1078.93 838.17 1082.43 841.05 1082.1 843.3C1081.77 845.55 1078.27 846.68 1076.5 849.1C1074.73 851.52 1071.05 855.3 1071.5 857.8C1071.95 860.3 1078.7 861.9 1079.2 864.1C1079.7 866.3 1076.12 868.58 1074.5 871C1072.88 873.42 1070.33 877.33 1069.5 878.6L1069.5 878.6L1069.5 804.2Z" fill="#dcdaee" fill-opacity="1.0"/>
<line x1="1069.5" y1="804.2" x2="1069.5" y2="878.6" stroke="#444" stroke-width="1" />
<rect x="1069.5" y="825.4" width="7" height="32.2" fill="#a09acb" stroke="#444" stroke-width="1" />
<line x1="1069.5" y1="841.6" x2="1076.5" y2="841.6" stroke="#333" stroke-width="2" />
<circle cx="1054.72" cy="809.63" r="1.5" fill="#9791c7" stroke="#fff" stroke-width="0.45"/>
<circle cx="1056.89" cy="806.72" r="1.5" fill="#9791c7" stroke="#fff" stroke-width="0.45"/>
<circle cx="1058" cy="809.66" r="1.5" fill="#9791c7" stroke="#fff" stroke-width="0.45"/>
<circle cx="1052.35" cy="806.99" r="1.5" fill="#9791c7" stroke="#fff" stroke-width="0.45"/>
<circle cx="1050.19" cy="812.49" r="1.5" fill="#9791c7" stroke="#fff" stroke-width="0.45"/>
<circle cx="1049.76" cy="808.75" r="1.5" fill="#9791c7" stroke="#fff" stroke-width="0.45"/>
<circle cx="1049.99" cy="805.17" r="1.5" fill="#9791c7" stroke="#fff" stroke-width="0.45"/>
<circle cx="1055.38" cy="812.29" r="1.5" fill="#9791c7" stroke="#fff" stroke-width="0.45"/>
<circle cx="1054.71" cy="805.2" r="1.5" fill="#9791c7" stroke="#fff" stroke-width="0.45"/>
<circle cx="1057.62" cy="818.45" r="1.5" fill="#9791c7" stroke="#fff" stroke-width="0.45"/>
<circle cx="1053.37" cy="822.98" r="1.5" fill="#9791c7" stroke="#fff" stroke-width="0.45"/>
<circle cx="1057.64" cy="824.83" r="1.5" fill="#9791c7" stroke="#fff" stroke-width="0.45"/>
<circle cx="1050.25" cy="818.18" r="1.5" fill="#9791c7" stroke="#fff" stroke-width="0.45"/>
<circle cx="1054.54" cy="829.69" r="1.5" fill="#9791c7" stroke="#fff" stroke-width="0.45"/>
<circle cx="1051.28" cy="833.23" r="1.5" fill="#9791c7" stroke="#fff" stroke-width="0.45"/>
<circle cx="1057.87" cy="828.4" r="1.5" fill="#9791c7" stroke="#fff" stroke-width="0.45"/>
<circle cx="1051.15" cy="826.41" r="1.5" fill="#9791c7" stroke="#fff" stroke-width="0.45"/>
<circle cx="1056.26" cy="832.85" r="1.5" fill="#9791c7" stroke="#fff" stroke-width="0.45"/>
<circle cx="1051.55" cy="829.99" r="1.5" fill="#9791c7" stroke="#fff" stroke-width="0.45"/>
<circle cx="1050.11" cy="821.28" r="1.5" fill="#9791c7" stroke="#fff" stroke-width="0.45"/>
<circle cx="1054.28" cy="817.98" r="1.5" fill="#9791c7" stroke="#fff" stroke-width="0.45"/>
<circle cx="1051.46" cy="843.38" r="1.5" fill="#9791c7" stroke="#fff" stroke-width="0.45"/>
<circle cx="1055.48" cy="841.96" r="1.5" fill="#9791c7" stroke="#fff" stroke-width="0.45"/>
<circle cx="1051.84" cy="849.26" r="1.5" fill="#9791c7" stroke="#fff" stroke-width="0.45"/>
<circle cx="1056.59" cy="846.73" r="1.5" fill="#9791c7" stroke="#fff" stroke-width="0.45"/>
<circle cx="1051.19" cy="840.37" r="1.5" fill="#9791c7" stroke="#fff" stroke-width="0.45"/>
<circle cx="1058.39" cy="843.65" r="1.5" fill="#9791c7" stroke="#fff" stroke-width="0.45"/>
<circle cx="1053.03" cy="845.84" r="1.5" fill="#9791c7" stroke="#fff" stroke-width="0.45"/>
<circle cx="1057.91" cy="840.16" r="1.5" fill="#9791c7" stroke="#fff" stroke-width="0.45"/>
<circle cx="1049.98" cy="847.14" r="1.5" fill="#9791c7" stroke="#fff" stroke-width="0.45"/>
<circle cx="1055.67" cy="848.71" r="1.5" fill="#9791c7" stroke="#fff" stroke-width="0.45"/>
<circle cx="1058.39" cy="866.15" r="1.5" fill="#9791c7" stroke="#fff" stroke-width="0.45"/>
<circle cx="1057.71" cy="873.43" r="1.5" fill="#9791c7" stroke="#fff" stroke-width="0.45"/>
<circle cx="1051.39" cy="869.14" r="1.5" fill="#9791c7" stroke="#fff" stroke-width="0.45"/>
<circle cx="1053.53" cy="865.21" r="1.5" fill="#9791c7" stroke="#fff" stroke-width="0.45"/>
<circle cx="1056.31" cy="863.78" r="1.5" fill="#9791c7" stroke="#fff" stroke-width="0.45"/>
<circle cx="1052.63" cy="872.26" r="1.5" fill="#9791c7" stroke="#fff" stroke-width="0.45"/>
<circle cx="1056.78" cy="870.05" r="1.5" fill="#9791c7" stroke="#fff" stroke-width="0.45"/>
<path d="M1138.4 816.7C1139.07 817.17 1141.15 818.28 1142.4 819.5C1143.65 820.72 1146.07 822.25 1145.9 824C1145.73 825.75 1142.73 828.07 1141.4 830C1140.07 831.93 1137.73 833.1 1137.9 835.6C1138.07 838.1 1140.28 841.7 1142.4 845C1144.52 848.3 1150.43 852.57 1150.6 855.4C1150.77 858.23 1145.43 860.07 1143.4 862C1141.37 863.93 1138.57 864.83 1138.4 867C1138.23 869.17 1140.83 872.27 1142.4 875C1143.97 877.73 1147.8 881.07 1147.8 883.4C1147.8 885.73 1144.3 887.15 1142.4 889C1140.5 890.85 1137.4 893.58 1136.4 894.5L1136.4 894.5L1136.4 816.7Z" fill="#e4e3f2" fill-opacity="1.0"/>
<line x1="1136.4" y1="816.7" x2="1136.4" y2="894.5" stroke="#444" stroke-width="1" />
<rect x="1136.4" y="840.4" width="7.2" height="35.8" fill="#bdbadb" stroke="#444" stroke-width="1" />
<line x1="1136.4" y1="855.9" x2="1143.6" y2="855.9" stroke="#333" stroke-width="2" />
<circle cx="1121.64" cy="823.87" r="1.5" fill="#b0add6" stroke="#fff" stroke-width="0.45"/>
<circle cx="1124.22" cy="827.03" r="1.5" fill="#b0add6" stroke="#fff" stroke-width="0.45"/>
<circle cx="1124.53" cy="821.63" r="1.5" fill="#b0add6" stroke="#fff" stroke-width="0.45"/>
<circle cx="1119.81" cy="818.9" r="1.5" fill="#b0add6" stroke="#fff" stroke-width="0.45"/>
<circle cx="1119.62" cy="827.11" r="1.5" fill="#b0add6" stroke="#fff" stroke-width="0.45"/>
<circle cx="1118.16" cy="823.25" r="1.5" fill="#b0add6" stroke="#fff" stroke-width="0.45"/>
<circle cx="1120.1" cy="821.62" r="1.5" fill="#b0add6" stroke="#fff" stroke-width="0.45"/>
<circle cx="1122.89" cy="818.31" r="1.5" fill="#b0add6" stroke="#fff" stroke-width="0.45"/>
<circle cx="1124.39" cy="824.03" r="1.5" fill="#b0add6" stroke="#fff" stroke-width="0.45"/>
<circle cx="1117.56" cy="825.59" r="1.5" fill="#b0add6" stroke="#fff" stroke-width="0.45"/>
<circle cx="1122.86" cy="861.54" r="1.5" fill="#b0add6" stroke="#fff" stroke-width="0.45"/>
<circle cx="1119.34" cy="865.56" r="1.5" fill="#b0add6" stroke="#fff" stroke-width="0.45"/>
<circle cx="1122.99" cy="844.78" r="1.5" fill="#b0add6" stroke="#fff" stroke-width="0.45"/>
<circle cx="1117.31" cy="851" r="1.5" fill="#b0add6" stroke="#fff" stroke-width="0.45"/>
<circle cx="1122.66" cy="850.11" r="1.5" fill="#b0add6" stroke="#fff" stroke-width="0.45"/>
<circle cx="1119.34" cy="842.66" r="1.5" fill="#b0add6" stroke="#fff" stroke-width="0.45"/>
<circle cx="1124.28" cy="866.84" r="1.5" fill="#b0add6" stroke="#fff" stroke-width="0.45"/>
<circle cx="1123.43" cy="854.83" r="1.5" fill="#b0add6" stroke="#fff" stroke-width="0.45"/>
<circle cx="1119.97" cy="854.26" r="1.5" fill="#b0add6" stroke="#fff" stroke-width="0.45"/>
<circle cx="1119.05" cy="861.96" r="1.5" fill="#b0add6" stroke="#fff" stroke-width="0.45"/>
<circle cx="1118.07" cy="859.03" r="1.5" fill="#b0add6" stroke="#fff" stroke-width="0.45"/>
<circle cx="1121.8" cy="857.45" r="1.5" fill="#b0add6" stroke="#fff" stroke-width="0.45"/>
<circle cx="1125.49" cy="848.3" r="1.5" fill="#b0add6" stroke="#fff" stroke-width="0.45"/>
<circle cx="1125.24" cy="851.78" r="1.5" fill="#b0add6" stroke="#fff" stroke-width="0.45"/>
<circle cx="1119.91" cy="846.21" r="1.5" fill="#b0add6" stroke="#fff" stroke-width="0.45"/>
<circle cx="1124.9" cy="858.38" r="1.5" fill="#b0add6" stroke="#fff" stroke-width="0.45"/>
<circle cx="1123.01" cy="885.3" r="1.5" fill="#b0add6" stroke="#fff" stroke-width="0.45"/>
<circle cx="1120.78" cy="878.74" r="1.5" fill="#b0add6" stroke="#fff" stroke-width="0.45"/>
<circle cx="1123.74" cy="878.06" r="1.5" fill="#b0add6" stroke="#fff" stroke-width="0.45"/>
<circle cx="1118.51" cy="883.74" r="1.5" fill="#b0add6" stroke="#fff" stroke-width="0.45"/>
<circle cx="1122.56" cy="881.83" r="1.5" fill="#b0add6" stroke="#fff" stroke-width="0.45"/>
<circle cx="1117.63" cy="878.7" r="1.5" fill="#b0add6" stroke="#fff" stroke-width="0.45"/>
<circle cx="1125.08" cy="880.6" r="1.5" fill="#b0add6" stroke="#fff" stroke-width="0.45"/>
<circle cx="1119.9" cy="885.95" r="1.5" fill="#b0add6" stroke="#fff" stroke-width="0.45"/>
<circle cx="1002.2" cy="799.6" r="1.1" fill="#222"/>
<text transform="translate(95,1048) rotate(-90)" font-size="26" text-anchor="end">clip-text</text>
<text transform="translate(150.8,1050.6) rotate(-90)" font-size="26" text-anchor="end">llama</text>
<text transform="translate(202.8,1048) rotate(-90)" font-size="26" text-anchor="end">gemma</text>
<text transform="translate(259,1055.8) rotate(-90)" font-size="26" text-anchor="end">gpt</text>
<text transform="translate(314.4,1054.5) rotate(-90)" font-size="26" text-anchor="end">bert</text>
<text transform="translate(497.7,1050.8) rotate(-90)" font-size="26" text-anchor="end">clip-img</text>
<text transform="translate(554.4,1054.6) rotate(-90)" font-size="26" text-anchor="end">vit</text>
<text transform="translate(608.5,1050.8) rotate(-90)" font-size="26" text-anchor="end">dino</text>
<text transform="translate(661.8,1055.9) rotate(-90)" font-size="26" text-anchor="end">swin</text>
<text transform="translate(718.2,1050.8) rotate(-90)" font-size="26" text-anchor="end">vgg</text>
<text transform="translate(925.2,1085.5) rotate(-90)" font-size="26" text-anchor="middle">ours-10-</text>
<text transform="translate(952.7,1085.5) rotate(-90)" font-size="26" text-anchor="middle">fm</text>
<text transform="translate(993.4,1085.5) rotate(-90)" font-size="26" text-anchor="middle">ma-10</text>
<text transform="translate(1022.8,1085.5) rotate(-90)" font-size="26" text-anchor="middle">model</text>
<text transform="translate(1062,1085.5) rotate(-90)" font-size="26" text-anchor="middle">ours-</text>
<text transform="translate(1090.1,1085.5) rotate(-90)" font-size="26" text-anchor="middle">clip-fm</text>
<text transform="translate(1146.5,1085.5) rotate(-90)" font-size="26" text-anchor="middle">ma-clip</text>
</svg>
</body></html>
